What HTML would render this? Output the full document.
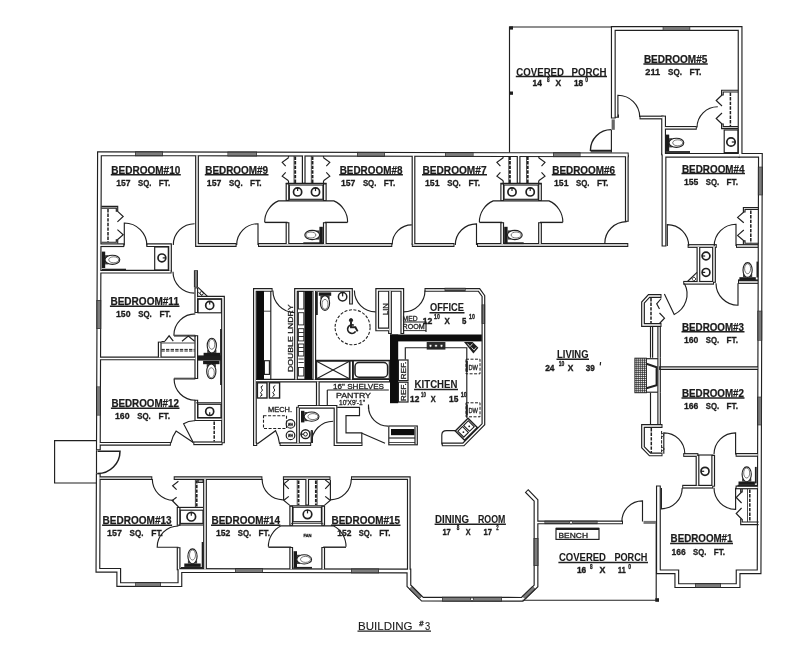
<!DOCTYPE html><html><head><meta charset="utf-8"><title>Building #3 Floor Plan</title>
<style>html,body{margin:0;padding:0;background:#fff}svg{display:block;filter:grayscale(1)}text{font-family:"Liberation Sans",sans-serif;fill:#1c1c1c;stroke:#1c1c1c;stroke-width:.28px}</style></head><body>
<svg width="800" height="670" viewBox="0 0 800 670">
<rect width="800" height="670" fill="#fff"/>
<path d="M98.35,450.20 L99.45,153.70 L509.50,154.60 L628.70,154.86" fill="none" stroke="#202020" stroke-width="4.85" stroke-linejoin="miter" stroke-linecap="butt"/>
<path d="M626.80,154.86 L626.80,221.80" fill="none" stroke="#202020" stroke-width="3.8" stroke-linejoin="miter" stroke-linecap="butt"/>
<path d="M197.00,154.20 L197.00,245.00 L236.60,245.00" fill="none" stroke="#202020" stroke-width="3.8" stroke-linejoin="miter" stroke-linecap="butt"/>
<path d="M258.00,245.00 L392.30,245.00" fill="none" stroke="#202020" stroke-width="3.8" stroke-linejoin="miter" stroke-linecap="butt"/>
<path d="M413.50,154.20 L413.50,245.00" fill="none" stroke="#202020" stroke-width="3.8" stroke-linejoin="miter" stroke-linecap="butt"/>
<path d="M411.80,245.00 L454.50,245.00" fill="none" stroke="#202020" stroke-width="3.8" stroke-linejoin="miter" stroke-linecap="butt"/>
<path d="M477.00,245.00 L628.30,245.00" fill="none" stroke="#202020" stroke-width="3.8" stroke-linejoin="miter" stroke-linecap="butt"/>
<path d="M98.40,245.20 L124.30,245.20" fill="none" stroke="#202020" stroke-width="3.8" stroke-linejoin="miter" stroke-linecap="butt"/>
<path d="M146.30,245.20 L170.00,245.20 L170.00,271.70" fill="none" stroke="#202020" stroke-width="3.8" stroke-linejoin="miter" stroke-linecap="butt"/>
<path d="M98.40,271.70 L171.60,271.70" fill="none" stroke="#202020" stroke-width="3.8" stroke-linejoin="miter" stroke-linecap="butt"/>
<path d="M303.70,154.20 L303.70,183.80" fill="none" stroke="#202020" stroke-width="3.8" stroke-linejoin="miter" stroke-linecap="butt"/>
<path d="M287.50,183.40 L287.50,200.90" fill="none" stroke="#202020" stroke-width="3.8" stroke-linejoin="miter" stroke-linecap="butt"/>
<path d="M324.80,183.40 L324.80,200.90" fill="none" stroke="#202020" stroke-width="3.8" stroke-linejoin="miter" stroke-linecap="butt"/>
<path d="M287.50,222.20 L287.50,245.00" fill="none" stroke="#202020" stroke-width="3.8" stroke-linejoin="miter" stroke-linecap="butt"/>
<path d="M324.80,222.20 L324.80,245.00" fill="none" stroke="#202020" stroke-width="3.8" stroke-linejoin="miter" stroke-linecap="butt"/>
<path d="M518.60,154.20 L518.60,183.80" fill="none" stroke="#202020" stroke-width="3.8" stroke-linejoin="miter" stroke-linecap="butt"/>
<path d="M502.20,183.40 L502.20,200.90" fill="none" stroke="#202020" stroke-width="3.8" stroke-linejoin="miter" stroke-linecap="butt"/>
<path d="M540.00,183.40 L540.00,200.90" fill="none" stroke="#202020" stroke-width="3.8" stroke-linejoin="miter" stroke-linecap="butt"/>
<path d="M502.20,222.20 L502.20,245.00" fill="none" stroke="#202020" stroke-width="3.8" stroke-linejoin="miter" stroke-linecap="butt"/>
<path d="M540.00,222.20 L540.00,245.00" fill="none" stroke="#202020" stroke-width="3.8" stroke-linejoin="miter" stroke-linecap="butt"/>
<path d="M613.30,118.60 L613.30,28.50 L740.10,28.50 L740.10,155.30" fill="none" stroke="#202020" stroke-width="4.85" stroke-linejoin="miter" stroke-linecap="butt"/>
<path d="M639.50,117.50 L663.60,117.50" fill="none" stroke="#202020" stroke-width="3.8" stroke-linejoin="miter" stroke-linecap="butt"/>
<path d="M663.60,115.60 L663.60,155.30" fill="none" stroke="#202020" stroke-width="4.85" stroke-linejoin="miter" stroke-linecap="butt"/>
<path d="M663.50,127.80 L696.80,127.80" fill="none" stroke="#202020" stroke-width="3.8" stroke-linejoin="miter" stroke-linecap="butt"/>
<path d="M664.00,246.50 L664.00,155.30 L740.10,155.30" fill="none" stroke="#202020" stroke-width="4.85" stroke-linejoin="miter" stroke-linecap="butt"/>
<path d="M738.20,155.30 L760.40,155.30 L759.10,571.80 L738.10,571.80 L738.10,585.60 L676.80,585.60 L676.80,571.80 L658.40,571.80 L658.40,485.60" fill="none" stroke="#202020" stroke-width="4.85" stroke-linejoin="miter" stroke-linecap="butt"/>
<path d="M687.60,246.00 L716.80,246.00" fill="none" stroke="#202020" stroke-width="3.8" stroke-linejoin="miter" stroke-linecap="butt"/>
<path d="M736.00,246.00 L758.60,246.00" fill="none" stroke="#202020" stroke-width="3.8" stroke-linejoin="miter" stroke-linecap="butt"/>
<path d="M698.40,246.00 L698.40,282.80" fill="none" stroke="#202020" stroke-width="3.8" stroke-linejoin="miter" stroke-linecap="butt"/>
<path d="M714.00,246.00 L714.00,282.80" fill="none" stroke="#202020" stroke-width="3.8" stroke-linejoin="miter" stroke-linecap="butt"/>
<path d="M683.20,282.80 L714.00,282.80" fill="none" stroke="#202020" stroke-width="3.8" stroke-linejoin="miter" stroke-linecap="butt"/>
<path d="M738.00,282.00 L758.60,282.00" fill="none" stroke="#202020" stroke-width="3.8" stroke-linejoin="miter" stroke-linecap="butt"/>
<path d="M661.50,296.00 L649.00,296.00 L643.00,302.50 L643.00,325.00 L661.50,325.00" fill="none" stroke="#202020" stroke-width="3.8" stroke-linejoin="miter" stroke-linecap="butt"/>
<path d="M659.10,368.10 L758.60,368.10" fill="none" stroke="#202020" stroke-width="3.8" stroke-linejoin="miter" stroke-linecap="butt"/>
<path d="M662.50,426.00 L643.00,426.00 L643.00,447.20 L650.00,454.40 L662.50,454.40" fill="none" stroke="#202020" stroke-width="3.8" stroke-linejoin="miter" stroke-linecap="butt"/>
<path d="M683.20,455.00 L698.40,455.00" fill="none" stroke="#202020" stroke-width="3.8" stroke-linejoin="miter" stroke-linecap="butt"/>
<path d="M697.50,455.00 L697.50,486.70" fill="none" stroke="#202020" stroke-width="3.8" stroke-linejoin="miter" stroke-linecap="butt"/>
<path d="M713.20,455.00 L713.20,486.70" fill="none" stroke="#202020" stroke-width="3.8" stroke-linejoin="miter" stroke-linecap="butt"/>
<path d="M682.20,486.70 L713.20,486.70" fill="none" stroke="#202020" stroke-width="3.8" stroke-linejoin="miter" stroke-linecap="butt"/>
<path d="M735.60,454.90 L758.60,454.90" fill="none" stroke="#202020" stroke-width="3.8" stroke-linejoin="miter" stroke-linecap="butt"/>
<path d="M735.60,487.40 L758.60,487.40" fill="none" stroke="#202020" stroke-width="3.8" stroke-linejoin="miter" stroke-linecap="butt"/>
<path d="M535.80,522.40 L623.00,522.40" fill="none" stroke="#202020" stroke-width="3.8" stroke-linejoin="miter" stroke-linecap="butt"/>
<path d="M98.40,478.10 L152.30,478.10" fill="none" stroke="#202020" stroke-width="3.8" stroke-linejoin="miter" stroke-linecap="butt"/>
<path d="M173.70,478.10 L262.40,478.10" fill="none" stroke="#202020" stroke-width="3.8" stroke-linejoin="miter" stroke-linecap="butt"/>
<path d="M282.90,478.10 L330.50,478.10" fill="none" stroke="#202020" stroke-width="3.8" stroke-linejoin="miter" stroke-linecap="butt"/>
<path d="M351.00,478.10 L408.80,478.10 L408.80,571.00" fill="none" stroke="#202020" stroke-width="3.8" stroke-linejoin="miter" stroke-linecap="butt"/>
<path d="M98.26,473.20 L97.90,570.30 L118.75,570.30 L118.75,584.50 L179.90,584.60 L179.90,570.50 L408.90,571.00 L408.90,585.80 L422.40,599.20 L522.20,599.30 L536.00,585.90 L536.00,500.40 L526.50,490.70" fill="none" stroke="#202020" stroke-width="4.85" stroke-linejoin="miter" stroke-linecap="butt"/>
<path d="M205.00,478.10 L205.00,570.30" fill="none" stroke="#202020" stroke-width="3.8" stroke-linejoin="miter" stroke-linecap="butt"/>
<path d="M178.60,507.00 L178.60,525.80" fill="none" stroke="#202020" stroke-width="3.8" stroke-linejoin="miter" stroke-linecap="butt"/>
<path d="M178.60,547.20 L178.60,570.30" fill="none" stroke="#202020" stroke-width="3.8" stroke-linejoin="miter" stroke-linecap="butt"/>
<path d="M307.20,478.10 L307.20,505.50" fill="none" stroke="#202020" stroke-width="3.8" stroke-linejoin="miter" stroke-linecap="butt"/>
<path d="M291.20,505.70 L291.20,525.80" fill="none" stroke="#202020" stroke-width="3.8" stroke-linejoin="miter" stroke-linecap="butt"/>
<path d="M323.20,505.70 L323.20,525.80" fill="none" stroke="#202020" stroke-width="3.8" stroke-linejoin="miter" stroke-linecap="butt"/>
<path d="M291.20,547.00 L291.20,570.30" fill="none" stroke="#202020" stroke-width="3.8" stroke-linejoin="miter" stroke-linecap="butt"/>
<path d="M323.20,547.00 L323.20,570.30" fill="none" stroke="#202020" stroke-width="3.8" stroke-linejoin="miter" stroke-linecap="butt"/>
<path d="M98.40,443.80 L170.90,443.80" fill="none" stroke="#202020" stroke-width="3.8" stroke-linejoin="miter" stroke-linecap="butt"/>
<path d="M193.30,443.30 L222.60,443.30" fill="none" stroke="#202020" stroke-width="3.8" stroke-linejoin="miter" stroke-linecap="butt"/>
<path d="M196.30,297.60 L223.00,297.60 L223.00,443.30" fill="none" stroke="#202020" stroke-width="3.8" stroke-linejoin="miter" stroke-linecap="butt"/>
<path d="M196.30,399.80 L196.30,419.20 L222.60,419.20" fill="none" stroke="#202020" stroke-width="3.8" stroke-linejoin="miter" stroke-linecap="butt"/>
<path d="M196.30,287.40 L196.30,313.00" fill="none" stroke="#202020" stroke-width="3.8" stroke-linejoin="miter" stroke-linecap="butt"/>
<path d="M196.30,335.20 L196.30,379.00" fill="none" stroke="#202020" stroke-width="3.8" stroke-linejoin="miter" stroke-linecap="butt"/>
<path d="M159.70,358.40 L159.70,341.60" fill="none" stroke="#202020" stroke-width="3.8" stroke-linejoin="miter" stroke-linecap="butt"/>
<path d="M98.40,358.40 L196.30,358.40" fill="none" stroke="#202020" stroke-width="3.8" stroke-linejoin="miter" stroke-linecap="butt"/>
<path d="M257.20,444.20 L254.90,444.20 L254.90,289.90 L272.60,289.90" fill="none" stroke="#202020" stroke-width="3.8" stroke-linejoin="miter" stroke-linecap="butt"/>
<path d="M296.00,380.60 L296.00,289.90 L351.00,289.90 L351.00,304.50" fill="none" stroke="#202020" stroke-width="3.8" stroke-linejoin="miter" stroke-linecap="butt"/>
<path d="M402.30,334.00 L402.30,289.90 L377.20,289.90 L377.20,329.40 L390.00,329.40" fill="none" stroke="#202020" stroke-width="3.8" stroke-linejoin="miter" stroke-linecap="butt"/>
<path d="M390.00,289.90 L390.00,334.00" fill="none" stroke="#202020" stroke-width="3.8" stroke-linejoin="miter" stroke-linecap="butt"/>
<path d="M424.50,289.90 L479.00,289.90 L483.40,296.00 L483.40,424.30 L463.40,444.40 L441.80,444.40" fill="none" stroke="#202020" stroke-width="3.8" stroke-linejoin="miter" stroke-linecap="butt"/>
<path d="M314.30,289.90 L314.30,380.60" fill="none" stroke="#202020" stroke-width="3.8" stroke-linejoin="miter" stroke-linecap="butt"/>
<path d="M254.90,380.60 L390.00,380.60" fill="none" stroke="#202020" stroke-width="3.8" stroke-linejoin="miter" stroke-linecap="butt"/>
<path d="M351.30,360.60 L351.30,380.60" fill="none" stroke="#202020" stroke-width="3.8" stroke-linejoin="miter" stroke-linecap="butt"/>
<path d="M317.80,380.60 L317.80,406.20" fill="none" stroke="#202020" stroke-width="3.8" stroke-linejoin="miter" stroke-linecap="butt"/>
<path d="M297.80,406.80 L335.50,406.80 L335.50,444.20 L362.50,444.20" fill="none" stroke="#202020" stroke-width="3.8" stroke-linejoin="miter" stroke-linecap="butt"/>
<path d="M279.60,444.20 L311.20,444.20" fill="none" stroke="#202020" stroke-width="3.8" stroke-linejoin="miter" stroke-linecap="butt"/>
<path d="M298.00,406.80 L298.00,444.20" fill="none" stroke="#202020" stroke-width="3.8" stroke-linejoin="miter" stroke-linecap="butt"/>
<path d="M98.35,449.20 L99.45,153.70 L509.50,154.60 L627.70,154.86" fill="none" stroke="#fff" stroke-width="2.55" stroke-linejoin="miter" stroke-linecap="butt"/>
<path d="M626.80,155.86 L626.80,220.80" fill="none" stroke="#fff" stroke-width="1.45" stroke-linejoin="miter" stroke-linecap="butt"/>
<path d="M197.00,155.20 L197.00,245.00 L235.60,245.00" fill="none" stroke="#fff" stroke-width="1.45" stroke-linejoin="miter" stroke-linecap="butt"/>
<path d="M259.00,245.00 L391.30,245.00" fill="none" stroke="#fff" stroke-width="1.45" stroke-linejoin="miter" stroke-linecap="butt"/>
<path d="M413.50,155.20 L413.50,244.00" fill="none" stroke="#fff" stroke-width="1.45" stroke-linejoin="miter" stroke-linecap="butt"/>
<path d="M412.80,245.00 L453.50,245.00" fill="none" stroke="#fff" stroke-width="1.45" stroke-linejoin="miter" stroke-linecap="butt"/>
<path d="M478.00,245.00 L627.30,245.00" fill="none" stroke="#fff" stroke-width="1.45" stroke-linejoin="miter" stroke-linecap="butt"/>
<path d="M99.40,245.20 L123.30,245.20" fill="none" stroke="#fff" stroke-width="1.45" stroke-linejoin="miter" stroke-linecap="butt"/>
<path d="M147.30,245.20 L170.00,245.20 L170.00,270.70" fill="none" stroke="#fff" stroke-width="1.45" stroke-linejoin="miter" stroke-linecap="butt"/>
<path d="M99.40,271.70 L170.60,271.70" fill="none" stroke="#fff" stroke-width="1.45" stroke-linejoin="miter" stroke-linecap="butt"/>
<path d="M303.70,155.20 L303.70,182.80" fill="none" stroke="#fff" stroke-width="1.45" stroke-linejoin="miter" stroke-linecap="butt"/>
<path d="M287.50,184.40 L287.50,199.90" fill="none" stroke="#fff" stroke-width="1.45" stroke-linejoin="miter" stroke-linecap="butt"/>
<path d="M324.80,184.40 L324.80,199.90" fill="none" stroke="#fff" stroke-width="1.45" stroke-linejoin="miter" stroke-linecap="butt"/>
<path d="M287.50,223.20 L287.50,244.00" fill="none" stroke="#fff" stroke-width="1.45" stroke-linejoin="miter" stroke-linecap="butt"/>
<path d="M324.80,223.20 L324.80,244.00" fill="none" stroke="#fff" stroke-width="1.45" stroke-linejoin="miter" stroke-linecap="butt"/>
<path d="M518.60,155.20 L518.60,182.80" fill="none" stroke="#fff" stroke-width="1.45" stroke-linejoin="miter" stroke-linecap="butt"/>
<path d="M502.20,184.40 L502.20,199.90" fill="none" stroke="#fff" stroke-width="1.45" stroke-linejoin="miter" stroke-linecap="butt"/>
<path d="M540.00,184.40 L540.00,199.90" fill="none" stroke="#fff" stroke-width="1.45" stroke-linejoin="miter" stroke-linecap="butt"/>
<path d="M502.20,223.20 L502.20,244.00" fill="none" stroke="#fff" stroke-width="1.45" stroke-linejoin="miter" stroke-linecap="butt"/>
<path d="M540.00,223.20 L540.00,244.00" fill="none" stroke="#fff" stroke-width="1.45" stroke-linejoin="miter" stroke-linecap="butt"/>
<path d="M613.30,117.60 L613.30,28.50 L740.10,28.50 L740.10,154.30" fill="none" stroke="#fff" stroke-width="2.55" stroke-linejoin="miter" stroke-linecap="butt"/>
<path d="M640.50,117.50 L662.60,117.50" fill="none" stroke="#fff" stroke-width="1.45" stroke-linejoin="miter" stroke-linecap="butt"/>
<path d="M663.60,116.60 L663.60,154.30" fill="none" stroke="#fff" stroke-width="2.55" stroke-linejoin="miter" stroke-linecap="butt"/>
<path d="M664.50,127.80 L695.80,127.80" fill="none" stroke="#fff" stroke-width="1.45" stroke-linejoin="miter" stroke-linecap="butt"/>
<path d="M664.00,245.50 L664.00,155.30 L739.10,155.30" fill="none" stroke="#fff" stroke-width="2.55" stroke-linejoin="miter" stroke-linecap="butt"/>
<path d="M739.20,155.30 L760.40,155.30 L759.10,571.80 L738.10,571.80 L738.10,585.60 L676.80,585.60 L676.80,571.80 L658.40,571.80 L658.40,486.60" fill="none" stroke="#fff" stroke-width="2.55" stroke-linejoin="miter" stroke-linecap="butt"/>
<path d="M688.60,246.00 L715.80,246.00" fill="none" stroke="#fff" stroke-width="1.45" stroke-linejoin="miter" stroke-linecap="butt"/>
<path d="M737.00,246.00 L757.60,246.00" fill="none" stroke="#fff" stroke-width="1.45" stroke-linejoin="miter" stroke-linecap="butt"/>
<path d="M698.40,247.00 L698.40,281.80" fill="none" stroke="#fff" stroke-width="1.45" stroke-linejoin="miter" stroke-linecap="butt"/>
<path d="M714.00,247.00 L714.00,281.80" fill="none" stroke="#fff" stroke-width="1.45" stroke-linejoin="miter" stroke-linecap="butt"/>
<path d="M684.20,282.80 L713.00,282.80" fill="none" stroke="#fff" stroke-width="1.45" stroke-linejoin="miter" stroke-linecap="butt"/>
<path d="M739.00,282.00 L757.60,282.00" fill="none" stroke="#fff" stroke-width="1.45" stroke-linejoin="miter" stroke-linecap="butt"/>
<path d="M660.50,296.00 L649.00,296.00 L643.00,302.50 L643.00,325.00 L660.50,325.00" fill="none" stroke="#fff" stroke-width="1.45" stroke-linejoin="miter" stroke-linecap="butt"/>
<path d="M660.10,368.10 L757.60,368.10" fill="none" stroke="#fff" stroke-width="1.45" stroke-linejoin="miter" stroke-linecap="butt"/>
<path d="M661.50,426.00 L643.00,426.00 L643.00,447.20 L650.00,454.40 L661.50,454.40" fill="none" stroke="#fff" stroke-width="1.45" stroke-linejoin="miter" stroke-linecap="butt"/>
<path d="M684.20,455.00 L697.40,455.00" fill="none" stroke="#fff" stroke-width="1.45" stroke-linejoin="miter" stroke-linecap="butt"/>
<path d="M697.50,456.00 L697.50,485.70" fill="none" stroke="#fff" stroke-width="1.45" stroke-linejoin="miter" stroke-linecap="butt"/>
<path d="M713.20,456.00 L713.20,485.70" fill="none" stroke="#fff" stroke-width="1.45" stroke-linejoin="miter" stroke-linecap="butt"/>
<path d="M683.20,486.70 L712.20,486.70" fill="none" stroke="#fff" stroke-width="1.45" stroke-linejoin="miter" stroke-linecap="butt"/>
<path d="M736.60,454.90 L757.60,454.90" fill="none" stroke="#fff" stroke-width="1.45" stroke-linejoin="miter" stroke-linecap="butt"/>
<path d="M736.60,487.40 L757.60,487.40" fill="none" stroke="#fff" stroke-width="1.45" stroke-linejoin="miter" stroke-linecap="butt"/>
<path d="M536.80,522.40 L622.00,522.40" fill="none" stroke="#fff" stroke-width="1.45" stroke-linejoin="miter" stroke-linecap="butt"/>
<path d="M99.40,478.10 L151.30,478.10" fill="none" stroke="#fff" stroke-width="1.45" stroke-linejoin="miter" stroke-linecap="butt"/>
<path d="M174.70,478.10 L261.40,478.10" fill="none" stroke="#fff" stroke-width="1.45" stroke-linejoin="miter" stroke-linecap="butt"/>
<path d="M283.90,478.10 L329.50,478.10" fill="none" stroke="#fff" stroke-width="1.45" stroke-linejoin="miter" stroke-linecap="butt"/>
<path d="M352.00,478.10 L408.80,478.10 L408.80,570.00" fill="none" stroke="#fff" stroke-width="1.45" stroke-linejoin="miter" stroke-linecap="butt"/>
<path d="M98.26,474.20 L97.90,570.30 L118.75,570.30 L118.75,584.50 L179.90,584.60 L179.90,570.50 L408.90,571.00 L408.90,585.80 L422.40,599.20 L522.20,599.30 L536.00,585.90 L536.00,500.40 L527.20,491.41" fill="none" stroke="#fff" stroke-width="2.55" stroke-linejoin="miter" stroke-linecap="butt"/>
<path d="M205.00,479.10 L205.00,569.30" fill="none" stroke="#fff" stroke-width="1.45" stroke-linejoin="miter" stroke-linecap="butt"/>
<path d="M178.60,508.00 L178.60,524.80" fill="none" stroke="#fff" stroke-width="1.45" stroke-linejoin="miter" stroke-linecap="butt"/>
<path d="M178.60,548.20 L178.60,569.30" fill="none" stroke="#fff" stroke-width="1.45" stroke-linejoin="miter" stroke-linecap="butt"/>
<path d="M307.20,479.10 L307.20,504.50" fill="none" stroke="#fff" stroke-width="1.45" stroke-linejoin="miter" stroke-linecap="butt"/>
<path d="M291.20,506.70 L291.20,524.80" fill="none" stroke="#fff" stroke-width="1.45" stroke-linejoin="miter" stroke-linecap="butt"/>
<path d="M323.20,506.70 L323.20,524.80" fill="none" stroke="#fff" stroke-width="1.45" stroke-linejoin="miter" stroke-linecap="butt"/>
<path d="M291.20,548.00 L291.20,569.30" fill="none" stroke="#fff" stroke-width="1.45" stroke-linejoin="miter" stroke-linecap="butt"/>
<path d="M323.20,548.00 L323.20,569.30" fill="none" stroke="#fff" stroke-width="1.45" stroke-linejoin="miter" stroke-linecap="butt"/>
<path d="M99.40,443.80 L169.90,443.80" fill="none" stroke="#fff" stroke-width="1.45" stroke-linejoin="miter" stroke-linecap="butt"/>
<path d="M194.30,443.30 L221.60,443.30" fill="none" stroke="#fff" stroke-width="1.45" stroke-linejoin="miter" stroke-linecap="butt"/>
<path d="M197.30,297.60 L223.00,297.60 L223.00,442.30" fill="none" stroke="#fff" stroke-width="1.45" stroke-linejoin="miter" stroke-linecap="butt"/>
<path d="M196.30,400.80 L196.30,419.20 L221.60,419.20" fill="none" stroke="#fff" stroke-width="1.45" stroke-linejoin="miter" stroke-linecap="butt"/>
<path d="M196.30,288.40 L196.30,312.00" fill="none" stroke="#fff" stroke-width="1.45" stroke-linejoin="miter" stroke-linecap="butt"/>
<path d="M196.30,336.20 L196.30,378.00" fill="none" stroke="#fff" stroke-width="1.45" stroke-linejoin="miter" stroke-linecap="butt"/>
<path d="M159.70,357.40 L159.70,342.60" fill="none" stroke="#fff" stroke-width="1.45" stroke-linejoin="miter" stroke-linecap="butt"/>
<path d="M99.40,358.40 L195.30,358.40" fill="none" stroke="#fff" stroke-width="1.45" stroke-linejoin="miter" stroke-linecap="butt"/>
<path d="M256.20,444.20 L254.90,444.20 L254.90,289.90 L271.60,289.90" fill="none" stroke="#fff" stroke-width="1.45" stroke-linejoin="miter" stroke-linecap="butt"/>
<path d="M296.00,379.60 L296.00,289.90 L351.00,289.90 L351.00,303.50" fill="none" stroke="#fff" stroke-width="1.45" stroke-linejoin="miter" stroke-linecap="butt"/>
<path d="M402.30,333.00 L402.30,289.90 L377.20,289.90 L377.20,329.40 L389.00,329.40" fill="none" stroke="#fff" stroke-width="1.45" stroke-linejoin="miter" stroke-linecap="butt"/>
<path d="M390.00,290.90 L390.00,333.00" fill="none" stroke="#fff" stroke-width="1.45" stroke-linejoin="miter" stroke-linecap="butt"/>
<path d="M425.50,289.90 L479.00,289.90 L483.40,296.00 L483.40,424.30 L463.40,444.40 L442.80,444.40" fill="none" stroke="#fff" stroke-width="1.45" stroke-linejoin="miter" stroke-linecap="butt"/>
<path d="M314.30,290.90 L314.30,379.60" fill="none" stroke="#fff" stroke-width="1.45" stroke-linejoin="miter" stroke-linecap="butt"/>
<path d="M255.90,380.60 L389.00,380.60" fill="none" stroke="#fff" stroke-width="1.45" stroke-linejoin="miter" stroke-linecap="butt"/>
<path d="M351.30,361.60 L351.30,379.60" fill="none" stroke="#fff" stroke-width="1.45" stroke-linejoin="miter" stroke-linecap="butt"/>
<path d="M317.80,381.60 L317.80,405.20" fill="none" stroke="#fff" stroke-width="1.45" stroke-linejoin="miter" stroke-linecap="butt"/>
<path d="M298.80,406.80 L335.50,406.80 L335.50,444.20 L361.50,444.20" fill="none" stroke="#fff" stroke-width="1.45" stroke-linejoin="miter" stroke-linecap="butt"/>
<path d="M280.60,444.20 L310.20,444.20" fill="none" stroke="#fff" stroke-width="1.45" stroke-linejoin="miter" stroke-linecap="butt"/>
<path d="M298.00,407.80 L298.00,443.20" fill="none" stroke="#fff" stroke-width="1.45" stroke-linejoin="miter" stroke-linecap="butt"/>
<g><rect x="101.8" y="251.6" width="3.4" height="16.4" fill="#1a1a1a"/>
<rect x="105.0" y="255.2" width="3.4" height="9.2" fill="#444"/>
<rect x="319.4" y="226.8" width="3.4" height="16.4" fill="#1a1a1a"/>
<rect x="316.2" y="230.4" width="3.4" height="9.2" fill="#444"/>
<rect x="504.2" y="226.8" width="3.4" height="16.4" fill="#1a1a1a"/>
<rect x="507.4" y="230.4" width="3.4" height="9.2" fill="#444"/>
<rect x="509.3" y="26.3" width="3.7" height="3.3" fill="#1e1e1e"/>
<rect x="509.3" y="91.5" width="3.7" height="3.3" fill="#1e1e1e"/>
<rect x="611.6" y="119.4" width="3.2" height="10.4" fill="#666"/>
<rect x="665.8" y="134.6" width="3.4" height="16.4" fill="#1a1a1a"/>
<rect x="669.0" y="138.2" width="3.4" height="9.2" fill="#444"/>
<rect x="739.4" y="277.2" width="16.4" height="3.4" fill="#1a1a1a"/>
<rect x="743.0" y="274.0" width="9.2" height="3.4" fill="#444"/>
<rect x="738.5" y="481.5" width="16.4" height="3.4" fill="#1a1a1a"/>
<rect x="742.1" y="478.3" width="9.2" height="3.4" fill="#444"/>
<rect x="643.5" y="520.9" width="12.5" height="3.0" fill="#777"/>
<rect x="655.3" y="598.2" width="3.7" height="3.6" fill="#1e1e1e"/>
<rect x="184.3" y="563.5" width="16.4" height="3.4" fill="#1a1a1a"/>
<rect x="187.9" y="560.3" width="9.2" height="3.4" fill="#444"/>
<rect x="293.6" y="551.2" width="3.4" height="16.4" fill="#1a1a1a"/>
<rect x="296.8" y="554.8" width="3.4" height="9.2" fill="#444"/>
<rect x="198.0" y="355.4" width="23.6" height="5.2" fill="#1e1e1e"/>
<rect x="203.6" y="352.8" width="16.4" height="3.4" fill="#1a1a1a"/>
<rect x="207.2" y="349.6" width="9.2" height="3.4" fill="#444"/>
<rect x="203.1" y="360.8" width="16.4" height="3.4" fill="#1a1a1a"/>
<rect x="206.7" y="364.0" width="9.2" height="3.4" fill="#444"/>
<rect x="256.6" y="291.0" width="7.4" height="88.5" fill="#0d0d0d"/>
<rect x="304.4" y="291.0" width="7.6" height="88.5" fill="#0d0d0d"/>
<rect x="318.8" y="292.4" width="12.4" height="3.4" fill="#1a1a1a"/>
<rect x="320.4" y="295.6" width="9.2" height="3.4" fill="#444"/>
<rect x="390.0" y="334.5" width="91.8" height="6.9" fill="#0d0d0d"/>
<rect x="390.0" y="334.5" width="8.2" height="68.7" fill="#0d0d0d"/>
<rect x="426.7" y="342.0" width="18.7" height="7.6" fill="#2a2a2a"/>
<rect x="391.0" y="429.0" width="23.4" height="6.2" fill="#0d0d0d"/>
<rect x="301.0" y="410.8" width="3.4" height="11.6" fill="#1a1a1a"/>
<rect x="304.2" y="412.0" width="3.4" height="9.2" fill="#444"/></g>
<g><path d="M96.5,450.2 L96.5,473.2" fill="none" stroke="#202020" stroke-width="1.15" />
<path d="M124.3,245.6 L124.3,223.0 A22.6,22.6 0 0 1 146.9,245.6" fill="none" stroke="#202020" stroke-width="1.15" />
<path d="M194.6,223.7 A21.3,21.3 0 0 0 173.3,245.0" fill="none" stroke="#202020" stroke-width="1.15" />
<path d="M173.0,271.8 A21.3,21.3 0 0 0 194.3,293.1" fill="none" stroke="#202020" stroke-width="1.15" />
<path d="M101.4,206.3 L117.7,206.3 L117.7,211.1" fill="none" stroke="#202020" stroke-width="1.15" />
<path d="M101.4,208.1 L116.3,208.1 L116.3,211.1 L117.7,211.1" fill="none" stroke="#202020" stroke-width="1.15" />
<path d="M117.7,239.8 L117.7,243.4" fill="none" stroke="#202020" stroke-width="1.15" />
<path d="M101.4,242.2 L116.3,242.2 L116.3,239.8 L117.7,239.8" fill="none" stroke="#202020" stroke-width="1.15" />
<path d="M117.4,211.1 L123.2,216.5 L117.4,221.9" fill="none" stroke="#202020" stroke-width="1.15" />
<path d="M117.4,229.6 L123.2,234.7 L117.4,239.8" fill="none" stroke="#202020" stroke-width="1.15" />
<path d="M108.0,209.0 L108.0,242.0" fill="none" stroke="#202020" stroke-width="1.5" stroke-dasharray="3.4 1.2"/>
<ellipse cx="112.4" cy="259.8" rx="7.4" ry="4.6" fill="#fff" stroke="#202020" stroke-width="1.1"/>
<ellipse cx="113.7" cy="259.8" rx="5.0" ry="3.0" fill="#fff" stroke="#202020" stroke-width="0.6"/>
<path d="M102.0,269.6 L126.0,269.6" fill="none" stroke="#202020" stroke-width="1.8" />
<rect x="154.7" y="247.0" width="13.6" height="23.0" fill="none" stroke="#202020" stroke-width="1.15" />
<circle cx="161.9" cy="257.9" r="3.9" fill="none" stroke="#202020" stroke-width="1.7" />
<path d="M162.7,257.9 L165.8,257.9" fill="none" stroke="#202020" stroke-width="1.2" />
<path d="M285.7,183.4 L326.6,183.4" fill="none" stroke="#202020" stroke-width="1.15" />
<rect x="289.3" y="185.0" width="33.7" height="14.3" fill="none" stroke="#202020" stroke-width="1.15" />
<circle cx="297.6" cy="191.9" r="4.1" fill="none" stroke="#202020" stroke-width="1.7" />
<path d="M297.6,191.1 L297.6,187.8" fill="none" stroke="#202020" stroke-width="1.2" />
<circle cx="315.5" cy="191.9" r="4.1" fill="none" stroke="#202020" stroke-width="1.7" />
<path d="M315.5,191.1 L315.5,187.8" fill="none" stroke="#202020" stroke-width="1.2" />
<path d="M288.5,157.7 L282.2,162.4 L285.7,166.1" fill="none" stroke="#202020" stroke-width="1.15" />
<path d="M285.7,172.4 L282.2,176.2 L288.5,180.8" fill="none" stroke="#202020" stroke-width="1.15" />
<path d="M323.5,157.7 L329.8,162.4 L326.3,166.1" fill="none" stroke="#202020" stroke-width="1.15" />
<path d="M326.3,172.4 L329.8,176.2 L323.5,180.8" fill="none" stroke="#202020" stroke-width="1.15" />
<path d="M288.5,156.0 L288.5,157.7" fill="none" stroke="#202020" stroke-width="1.15" />
<path d="M288.5,180.8 L288.5,183.4" fill="none" stroke="#202020" stroke-width="1.15" />
<path d="M323.5,156.0 L323.5,157.7" fill="none" stroke="#202020" stroke-width="1.15" />
<path d="M323.5,180.8 L323.5,183.4" fill="none" stroke="#202020" stroke-width="1.15" />
<path d="M295.2,156.5 L295.2,183.0" fill="none" stroke="#202020" stroke-width="1.9" stroke-dasharray="3.4 1.2"/>
<path d="M294.0,156.0 L294.0,183.4" fill="none" stroke="#202020" stroke-width="0.7" />
<path d="M312.5,156.5 L312.5,183.0" fill="none" stroke="#202020" stroke-width="1.9" stroke-dasharray="3.4 1.2"/>
<path d="M311.3,156.0 L311.3,183.4" fill="none" stroke="#202020" stroke-width="0.7" />
<path d="M264.7,222.2 A22.8,22.8 0 0 1 278.5,200.9 L333.8,200.9 A22.8,22.8 0 0 1 347.6,222.2" fill="none" stroke="#202020" stroke-width="1.15" />
<path d="M264.7,222.4 L287.5,222.4" fill="none" stroke="#202020" stroke-width="1.4" />
<path d="M324.8,222.4 L347.6,222.4" fill="none" stroke="#202020" stroke-width="1.4" />
<ellipse cx="312.2" cy="235.0" rx="7.4" ry="4.6" fill="#fff" stroke="#202020" stroke-width="1.1"/>
<ellipse cx="310.9" cy="235.0" rx="5.0" ry="3.0" fill="#fff" stroke="#202020" stroke-width="0.6"/>
<path d="M303.3,243.2 L322.8,243.2" fill="none" stroke="#202020" stroke-width="1.8" />
<path d="M500.4,183.4 L541.8,183.4" fill="none" stroke="#202020" stroke-width="1.15" />
<rect x="504.0" y="185.0" width="34.2" height="14.3" fill="none" stroke="#202020" stroke-width="1.15" />
<circle cx="512.0" cy="191.9" r="4.1" fill="none" stroke="#202020" stroke-width="1.7" />
<path d="M512.0,191.1 L512.0,187.8" fill="none" stroke="#202020" stroke-width="1.2" />
<circle cx="530.2" cy="191.9" r="4.1" fill="none" stroke="#202020" stroke-width="1.7" />
<path d="M530.2,191.1 L530.2,187.8" fill="none" stroke="#202020" stroke-width="1.2" />
<path d="M503.2,157.7 L496.9,162.4 L500.4,166.1" fill="none" stroke="#202020" stroke-width="1.15" />
<path d="M500.4,172.4 L496.9,176.2 L503.2,180.8" fill="none" stroke="#202020" stroke-width="1.15" />
<path d="M538.7,157.7 L545.0,162.4 L541.5,166.1" fill="none" stroke="#202020" stroke-width="1.15" />
<path d="M541.5,172.4 L545.0,176.2 L538.7,180.8" fill="none" stroke="#202020" stroke-width="1.15" />
<path d="M503.2,156.0 L503.2,157.7" fill="none" stroke="#202020" stroke-width="1.15" />
<path d="M503.2,180.8 L503.2,183.4" fill="none" stroke="#202020" stroke-width="1.15" />
<path d="M538.7,156.0 L538.7,157.7" fill="none" stroke="#202020" stroke-width="1.15" />
<path d="M538.7,180.8 L538.7,183.4" fill="none" stroke="#202020" stroke-width="1.15" />
<path d="M509.9,156.5 L509.9,183.0" fill="none" stroke="#202020" stroke-width="1.9" stroke-dasharray="3.4 1.2"/>
<path d="M508.7,156.0 L508.7,183.4" fill="none" stroke="#202020" stroke-width="0.7" />
<path d="M527.7,156.5 L527.7,183.0" fill="none" stroke="#202020" stroke-width="1.9" stroke-dasharray="3.4 1.2"/>
<path d="M526.5,156.0 L526.5,183.4" fill="none" stroke="#202020" stroke-width="0.7" />
<path d="M479.4,222.2 A22.8,22.8 0 0 1 493.2,200.9 L549.0,200.9 A22.8,22.8 0 0 1 562.8,222.2" fill="none" stroke="#202020" stroke-width="1.15" />
<path d="M479.4,222.4 L502.2,222.4" fill="none" stroke="#202020" stroke-width="1.4" />
<path d="M540.0,222.4 L562.8,222.4" fill="none" stroke="#202020" stroke-width="1.4" />
<ellipse cx="514.8" cy="235.0" rx="7.4" ry="4.6" fill="#fff" stroke="#202020" stroke-width="1.1"/>
<ellipse cx="516.1" cy="235.0" rx="5.0" ry="3.0" fill="#fff" stroke="#202020" stroke-width="0.6"/>
<path d="M504.2,243.2 L523.7,243.2" fill="none" stroke="#202020" stroke-width="1.8" />
<path d="M258.0,245.0 L258.0,223.7 A21.3,21.3 0 0 0 236.7,245.0" fill="none" stroke="#202020" stroke-width="1.15" />
<path d="M411.8,224.9 A19.6,19.6 0 0 0 392.2,244.5" fill="none" stroke="#202020" stroke-width="1.15" />
<path d="M476.5,245.0 L476.5,223.8 A21.2,21.2 0 0 0 455.3,245.0" fill="none" stroke="#202020" stroke-width="1.15" />
<path d="M626.6,221.6 A21.8,21.8 0 0 0 604.8,243.4" fill="none" stroke="#202020" stroke-width="1.15" />
<path d="M509.5,152.5 L509.5,27.0 L611.5,27.0" fill="none" stroke="#202020" stroke-width="1.15" />
<path d="M611.4,129.8 L611.4,152.6" fill="none" stroke="#202020" stroke-width="1.15" />
<path d="M611.2,150.4 L590.4,150.4 A20.8,20.8 0 0 1 611.2,129.6" fill="none" stroke="#202020" stroke-width="1.4" />
<path d="M590.6,151.8 L611.0,151.8" fill="none" stroke="#202020" stroke-width="1.15" />
<path d="M617.9,117.0 L617.9,95.2 A21.8,21.8 0 0 1 639.7,117.0" fill="none" stroke="#202020" stroke-width="1.15" />
<path d="M615.0,117.2 L618.4,117.2 L618.4,114.5" fill="none" stroke="#202020" stroke-width="1.15" />
<path d="M717.8,106.7 A20.8,20.8 0 0 0 697.0,127.5" fill="none" stroke="#202020" stroke-width="1.15" />
<path d="M738.0,90.2 L721.6,90.2 L721.6,95.0" fill="none" stroke="#202020" stroke-width="1.15" />
<path d="M738.0,92.0 L723.2,92.0 L723.2,95.0 L721.6,95.0" fill="none" stroke="#202020" stroke-width="1.15" />
<path d="M721.6,124.0 L721.6,128.6 L738.0,128.6" fill="none" stroke="#202020" stroke-width="1.15" />
<path d="M738.0,126.6 L723.2,126.6 L723.2,124.0 L721.6,124.0" fill="none" stroke="#202020" stroke-width="1.15" />
<path d="M722.0,95.0 L716.2,100.5 L722.0,106.0" fill="none" stroke="#202020" stroke-width="1.15" />
<path d="M722.0,113.0 L716.2,118.5 L722.0,124.0" fill="none" stroke="#202020" stroke-width="1.15" />
<path d="M730.4,92.5 L730.4,126.5" fill="none" stroke="#202020" stroke-width="1.5" stroke-dasharray="3.4 1.2"/>
<rect x="724.2" y="130.0" width="13.8" height="22.6" fill="none" stroke="#202020" stroke-width="1.15" />
<circle cx="731.0" cy="142.0" r="4.2" fill="none" stroke="#202020" stroke-width="1.7" />
<path d="M731.8,142.0 L735.2,142.0" fill="none" stroke="#202020" stroke-width="1.2" />
<ellipse cx="676.4" cy="142.8" rx="7.4" ry="4.6" fill="#fff" stroke="#202020" stroke-width="1.1"/>
<ellipse cx="677.7" cy="142.8" rx="5.0" ry="3.0" fill="#fff" stroke="#202020" stroke-width="0.6"/>
<path d="M666.0,152.0 L690.0,152.0" fill="none" stroke="#202020" stroke-width="1.8" />
<path d="M667.3,246.0 L667.3,224.6 A21.4,21.4 0 0 1 688.7,246.0" fill="none" stroke="#202020" stroke-width="1.15" />
<path d="M736.0,246.0 L736.0,224.2 A21.8,21.8 0 0 0 714.2,246.0" fill="none" stroke="#202020" stroke-width="1.15" />
<path d="M758.6,207.5 L743.4,207.5 L743.4,212.0" fill="none" stroke="#202020" stroke-width="1.15" />
<path d="M758.6,209.3 L745.0,209.3 L745.0,212.0 L743.4,212.0" fill="none" stroke="#202020" stroke-width="1.15" />
<path d="M743.4,240.8 L743.4,244.4" fill="none" stroke="#202020" stroke-width="1.15" />
<path d="M758.6,243.2 L745.0,243.2 L745.0,240.8 L743.4,240.8" fill="none" stroke="#202020" stroke-width="1.15" />
<path d="M743.8,212.0 L737.6,217.4 L743.8,222.8" fill="none" stroke="#202020" stroke-width="1.15" />
<path d="M743.8,230.0 L737.6,235.4 L743.8,240.8" fill="none" stroke="#202020" stroke-width="1.15" />
<path d="M750.8,210.5 L750.8,243.0" fill="none" stroke="#202020" stroke-width="1.5" stroke-dasharray="3.4 1.2"/>
<circle cx="706.0" cy="256.0" r="3.9" fill="none" stroke="#202020" stroke-width="1.7" />
<path d="M705.2,256.0 L702.1,256.0" fill="none" stroke="#202020" stroke-width="1.2" />
<circle cx="706.0" cy="272.4" r="3.9" fill="none" stroke="#202020" stroke-width="1.7" />
<path d="M705.2,272.4 L702.1,272.4" fill="none" stroke="#202020" stroke-width="1.2" />
<ellipse cx="747.6" cy="270.0" rx="4.6" ry="7.4" fill="#fff" stroke="#202020" stroke-width="1.1"/>
<ellipse cx="747.6" cy="268.7" rx="3.0" ry="5.0" fill="#fff" stroke="#202020" stroke-width="0.6"/>
<path d="M757.4,261.6 L757.4,277.5" fill="none" stroke="#202020" stroke-width="1.8" />
<path d="M738.0,280.2 L758.0,280.2" fill="none" stroke="#202020" stroke-width="1.6" />
<path d="M738.0,283.2 L738.0,305.2 A22,22 0 0 1 716.0,283.2" fill="none" stroke="#202020" stroke-width="1.15" />
<path d="M664.4,294.0 L674.2,314.4 A22.6,22.6 0 0 0 684.4,283.4" fill="none" stroke="#202020" stroke-width="1.15" />
<path d="M697.0,272.3 L687.5,281.5" fill="none" stroke="#202020" stroke-width="1.15" />
<rect x="-1.5" y="-1.5" width="3" height="3" transform="translate(693.9,279) rotate(45)" fill="#fff" stroke="#202020" stroke-width="0.8"/>
<path d="M651.0,298.0 L651.0,323.5" fill="none" stroke="#202020" stroke-width="1.5" stroke-dasharray="3.4 1.2"/>
<path d="M661.2,298.5 L656.7,303.8 L659.5,309.0" fill="none" stroke="#202020" stroke-width="1.15" />
<path d="M659.5,313.0 L664.5,318.2 L659.5,323.5" fill="none" stroke="#202020" stroke-width="1.15" />
<path d="M650.5,326.6 L650.5,357.8" fill="none" stroke="#202020" stroke-width="1.15" />
<path d="M652.6,326.6 L652.6,357.8" fill="none" stroke="#202020" stroke-width="1.15" />
<path d="M657.9,326.6 L657.9,357.8" fill="none" stroke="#202020" stroke-width="1.15" />
<path d="M660.3,326.6 L660.3,357.8" fill="none" stroke="#202020" stroke-width="1.15" />
<path d="M650.5,392.7 L650.5,424.8" fill="none" stroke="#202020" stroke-width="1.15" />
<path d="M657.9,392.7 L657.9,424.8" fill="none" stroke="#202020" stroke-width="1.15" />
<path d="M660.3,392.7 L660.3,424.8" fill="none" stroke="#202020" stroke-width="1.15" />
<path d="M657.9,357.8 L657.9,392.7" fill="none" stroke="#202020" stroke-width="1.15" />
<path d="M660.3,357.8 L660.3,392.7" fill="none" stroke="#202020" stroke-width="1.15" />
<rect x="634.9" y="358.2" width="11.5" height="34.5" fill="none" stroke="#202020" stroke-width="1" />
<path d="M636.8,358.2 L636.8,392.7" fill="none" stroke="#202020" stroke-width="0.7" />
<path d="M638.7,358.2 L638.7,392.7" fill="none" stroke="#202020" stroke-width="0.7" />
<path d="M640.7,358.2 L640.7,392.7" fill="none" stroke="#202020" stroke-width="0.7" />
<path d="M642.6,358.2 L642.6,392.7" fill="none" stroke="#202020" stroke-width="0.7" />
<path d="M644.5,358.2 L644.5,392.7" fill="none" stroke="#202020" stroke-width="0.7" />
<path d="M634.9,360.2 L646.4,360.2" fill="none" stroke="#202020" stroke-width="0.7" />
<path d="M634.9,362.3 L646.4,362.3" fill="none" stroke="#202020" stroke-width="0.7" />
<path d="M634.9,364.3 L646.4,364.3" fill="none" stroke="#202020" stroke-width="0.7" />
<path d="M634.9,366.3 L646.4,366.3" fill="none" stroke="#202020" stroke-width="0.7" />
<path d="M634.9,368.3 L646.4,368.3" fill="none" stroke="#202020" stroke-width="0.7" />
<path d="M634.9,370.4 L646.4,370.4" fill="none" stroke="#202020" stroke-width="0.7" />
<path d="M634.9,372.4 L646.4,372.4" fill="none" stroke="#202020" stroke-width="0.7" />
<path d="M634.9,374.4 L646.4,374.4" fill="none" stroke="#202020" stroke-width="0.7" />
<path d="M634.9,376.5 L646.4,376.5" fill="none" stroke="#202020" stroke-width="0.7" />
<path d="M634.9,378.5 L646.4,378.5" fill="none" stroke="#202020" stroke-width="0.7" />
<path d="M634.9,380.5 L646.4,380.5" fill="none" stroke="#202020" stroke-width="0.7" />
<path d="M634.9,382.6 L646.4,382.6" fill="none" stroke="#202020" stroke-width="0.7" />
<path d="M634.9,384.6 L646.4,384.6" fill="none" stroke="#202020" stroke-width="0.7" />
<path d="M634.9,386.6 L646.4,386.6" fill="none" stroke="#202020" stroke-width="0.7" />
<path d="M634.9,388.6 L646.4,388.6" fill="none" stroke="#202020" stroke-width="0.7" />
<path d="M634.9,390.7 L646.4,390.7" fill="none" stroke="#202020" stroke-width="0.7" />
<path d="M646.4,358.7 L657.9,358.7" fill="none" stroke="#202020" stroke-width="1.15" />
<path d="M646.4,392.2 L657.9,392.2" fill="none" stroke="#202020" stroke-width="1.15" />
<path d="M646.4,363.8 L656.6,367.2 L656.6,385.3 L646.4,388.2" fill="none" stroke="#202020" stroke-width="2" />
<path d="M651.3,428.0 L651.3,453.0" fill="none" stroke="#202020" stroke-width="1.5" stroke-dasharray="3.4 1.2"/>
<path d="M661.6,431.0 L661.6,452.0" fill="none" stroke="#202020" stroke-width="1" stroke-dasharray="3.4 1.2"/>
<path d="M662.0,433.0 L664.2,435.0 L662.0,437.0" fill="none" stroke="#202020" stroke-width="0.8" />
<path d="M662.0,447.0 L664.5,449.0 L662.0,451.0" fill="none" stroke="#202020" stroke-width="0.8" />
<path d="M663.8,453.8 L663.8,432.8 A21,21 0 0 1 684.8,453.8" fill="none" stroke="#202020" stroke-width="1.15" />
<path d="M697.5,455.0 L713.2,455.0" fill="none" stroke="#202020" stroke-width="1.15" />
<circle cx="705.0" cy="471.3" r="4.0" fill="none" stroke="#202020" stroke-width="1.7" />
<path d="M704.2,471.3 L701.0,471.3" fill="none" stroke="#202020" stroke-width="1.2" />
<path d="M735.6,454.4 L735.6,432.8 A21.6,21.6 0 0 0 714.0,454.4" fill="none" stroke="#202020" stroke-width="1.15" />
<ellipse cx="746.7" cy="474.3" rx="4.6" ry="7.4" fill="#fff" stroke="#202020" stroke-width="1.1"/>
<ellipse cx="746.7" cy="473.0" rx="3.0" ry="5.0" fill="#fff" stroke="#202020" stroke-width="0.6"/>
<path d="M755.8,466.9 L755.8,483.5" fill="none" stroke="#202020" stroke-width="1.8" />
<path d="M737.5,485.6 L757.5,485.6" fill="none" stroke="#202020" stroke-width="1.6" />
<path d="M735.6,487.8 L735.6,509.4 A21.6,21.6 0 0 1 714.0,487.8" fill="none" stroke="#202020" stroke-width="1.15" />
<path d="M661.4,488.0 L661.4,508.8 A20.8,20.8 0 0 0 682.2,488.0" fill="none" stroke="#202020" stroke-width="1.15" />
<path d="M758.6,522.0 L742.2,522.0 L742.2,519.0" fill="none" stroke="#202020" stroke-width="1.15" />
<path d="M758.6,524.6 L740.7,524.6 L740.7,519.0 L742.2,519.0" fill="none" stroke="#202020" stroke-width="1.15" />
<path d="M740.7,489.0 L740.7,492.0 L742.2,492.0 L742.2,489.0" fill="none" stroke="#202020" stroke-width="1.15" />
<path d="M741.6,492.0 L736.2,497.5 L741.6,503.0" fill="none" stroke="#202020" stroke-width="1.15" />
<path d="M741.6,508.0 L736.2,513.5 L741.6,519.0" fill="none" stroke="#202020" stroke-width="1.15" />
<path d="M747.5,489.0 L747.5,522.0" fill="none" stroke="#202020" stroke-width="0.8" />
<path d="M749.8,489.5 L749.8,522.0" fill="none" stroke="#202020" stroke-width="1.5" stroke-dasharray="3.4 1.2"/>
<path d="M642.5,521.4 L642.5,500.8 A20.6,20.6 0 0 0 621.9,521.4" fill="none" stroke="#202020" stroke-width="1.15" />
<path d="M656.2,524.0 L656.2,600.2" fill="none" stroke="#202020" stroke-width="1.15" />
<path d="M522.5,600.2 L656.2,600.2" fill="none" stroke="#202020" stroke-width="1.15" />
<rect x="556.0" y="528.4" width="43.0" height="11.0" fill="none" stroke="#202020" stroke-width="1.15" />
<path d="M556.0,528.8 L599.0,528.8" fill="none" stroke="#202020" stroke-width="2.2" />
<path d="M173.7,500.4 A21.4,21.4 0 0 1 152.3,479.0" fill="none" stroke="#202020" stroke-width="1.15" />
<path d="M178.4,481.2 L172.6,485.7 L176.6,489.7" fill="none" stroke="#202020" stroke-width="1.15" />
<path d="M176.6,497.3 L172.2,500.5 L178.6,507.0" fill="none" stroke="#202020" stroke-width="1.15" />
<path d="M195.4,479.8 L195.4,507.4" fill="none" stroke="#202020" stroke-width="0.8" />
<path d="M196.7,480.2 L196.7,507.2" fill="none" stroke="#202020" stroke-width="1.8" stroke-dasharray="3.4 1.2"/>
<rect x="198.0" y="479.8" width="5.2" height="2.5" fill="none" stroke="#202020" stroke-width="1.3" />
<path d="M178.6,507.4 L203.0,507.4" fill="none" stroke="#202020" stroke-width="1.15" />
<rect x="180.3" y="510.2" width="22.7" height="13.2" fill="none" stroke="#202020" stroke-width="1.15" />
<circle cx="191.3" cy="516.7" r="4.3" fill="none" stroke="#202020" stroke-width="1.7" />
<path d="M191.3,515.8 L191.3,512.4" fill="none" stroke="#202020" stroke-width="1.2" />
<path d="M178.6,525.0 L203.0,525.0" fill="none" stroke="#202020" stroke-width="1.15" />
<path d="M178.4,547.2 L157.2,547.2 A21.2,21.2 0 0 1 178.4,526.0" fill="none" stroke="#202020" stroke-width="1.15" />
<ellipse cx="192.5" cy="556.3" rx="4.6" ry="7.4" fill="#fff" stroke="#202020" stroke-width="1.1"/>
<ellipse cx="192.5" cy="555.0" rx="3.0" ry="5.0" fill="#fff" stroke="#202020" stroke-width="0.6"/>
<path d="M202.6,542.0 L202.6,567.5" fill="none" stroke="#202020" stroke-width="1.8" />
<path d="M181.0,567.8 L203.0,567.8" fill="none" stroke="#202020" stroke-width="1.6" />
<path d="M96.6,440.6 L54.6,440.6 L54.6,483.0 L96.6,483.0" fill="none" stroke="#202020" stroke-width="1.15" />
<path d="M97.6,451.2 L120.0,451.2 A22.4,22.4 0 0 1 97.6,473.6" fill="none" stroke="#202020" stroke-width="1.5" />
<path d="M282.9,499.8 A20.8,20.8 0 0 1 262.1,479.0" fill="none" stroke="#202020" stroke-width="1.15" />
<path d="M330.5,499.8 A20.8,20.8 0 0 0 351.3,479.0" fill="none" stroke="#202020" stroke-width="1.15" />
<path d="M283.6,480.0 L283.6,500.3 L289.8,505.4" fill="none" stroke="#202020" stroke-width="1.15" />
<path d="M330.4,480.0 L330.4,500.3 L324.4,505.4" fill="none" stroke="#202020" stroke-width="1.15" />
<path d="M288.8,479.9 L283.9,483.7 L288.8,488.8" fill="none" stroke="#202020" stroke-width="1.15" />
<path d="M288.8,496.4 L283.9,500.3" fill="none" stroke="#202020" stroke-width="1.15" />
<path d="M325.2,479.9 L330.1,483.7 L325.2,488.8" fill="none" stroke="#202020" stroke-width="1.15" />
<path d="M325.2,496.4 L330.1,500.3" fill="none" stroke="#202020" stroke-width="1.15" />
<path d="M298.5,480.5 L298.5,505.0" fill="none" stroke="#202020" stroke-width="1.9" stroke-dasharray="3.4 1.2"/>
<path d="M297.2,480.0 L297.2,505.4" fill="none" stroke="#202020" stroke-width="0.7" />
<path d="M315.9,480.5 L315.9,505.0" fill="none" stroke="#202020" stroke-width="1.9" stroke-dasharray="3.4 1.2"/>
<path d="M317.2,480.0 L317.2,505.4" fill="none" stroke="#202020" stroke-width="0.7" />
<path d="M289.5,505.7 L324.8,505.7" fill="none" stroke="#202020" stroke-width="1.15" />
<rect x="293.0" y="507.2" width="28.4" height="14.5" fill="none" stroke="#202020" stroke-width="1.15" />
<circle cx="307.5" cy="514.3" r="4.3" fill="none" stroke="#202020" stroke-width="1.7" />
<path d="M307.5,513.4 L307.5,510.0" fill="none" stroke="#202020" stroke-width="1.2" />
<path d="M291.0,523.4 L323.4,523.4" fill="none" stroke="#202020" stroke-width="0.8" />
<path d="M268.4,546.8 A22.8,22.8 0 0 1 281.2,525.8 L333.2,525.8 A22.8,22.8 0 0 1 346.0,546.8" fill="none" stroke="#202020" stroke-width="1.15" />
<path d="M268.4,547.2 L291.2,547.2" fill="none" stroke="#202020" stroke-width="1.4" />
<path d="M323.2,547.2 L346.0,547.2" fill="none" stroke="#202020" stroke-width="1.4" />
<ellipse cx="304.2" cy="559.4" rx="7.4" ry="4.6" fill="#fff" stroke="#202020" stroke-width="1.1"/>
<ellipse cx="305.5" cy="559.4" rx="5.0" ry="3.0" fill="#fff" stroke="#202020" stroke-width="0.6"/>
<path d="M293.5,567.8 L312.0,567.8" fill="none" stroke="#202020" stroke-width="1.8" />
<path d="M170.9,443 Q172.5,436 176.1,431.1 L193.3,442.6" fill="none" stroke="#202020" stroke-width="1.15" />
<path d="M193.3,442.6 L183.6,423.7 Q189,420.5 195,420.8" fill="none" stroke="#202020" stroke-width="1.15" />
<path d="M214.2,421.5 L214.2,441.6" fill="none" stroke="#202020" stroke-width="1.5" stroke-dasharray="3.4 1.2"/>
<rect x="197.8" y="404.3" width="23.2" height="13.3" fill="none" stroke="#202020" stroke-width="1.15" />
<circle cx="209.7" cy="411.5" r="4" fill="none" stroke="#202020" stroke-width="1.7" />
<path d="M209.7,412.3 L209.7,415.5" fill="none" stroke="#202020" stroke-width="1.2" />
<path d="M196.3,402.8 L221.0,402.8" fill="none" stroke="#202020" stroke-width="1.15" />
<path d="M198.0,287.4 L207.5,296.3" fill="none" stroke="#202020" stroke-width="1.15" />
<path d="M198.0,291.8 L202.5,296.3" fill="none" stroke="#202020" stroke-width="0.8" />
<circle cx="201.7" cy="293.2" r="1.7" fill="none" stroke="#202020" stroke-width="0.9" />
<rect x="198.0" y="299.2" width="23.4" height="13.6" fill="none" stroke="#202020" stroke-width="1.15" />
<circle cx="209.7" cy="305.4" r="4" fill="none" stroke="#202020" stroke-width="1.7" />
<path d="M209.7,304.6 L209.7,301.4" fill="none" stroke="#202020" stroke-width="1.2" />
<path d="M195.3,335.2 L173.9,335.2 A21.4,21.4 0 0 1 195.3,313.8" fill="none" stroke="#202020" stroke-width="1.15" />
<path d="M174.0,336.2 L196.0,336.2" fill="none" stroke="#202020" stroke-width="0.8" />
<path d="M161.4,341.6 L164.9,341.6" fill="none" stroke="#202020" stroke-width="1.15" />
<path d="M164.9,341.2 L169.1,335.8 L173.3,341.2" fill="none" stroke="#202020" stroke-width="1.15" />
<path d="M182.0,341.2 L188.3,336.0 L194.6,341.2" fill="none" stroke="#202020" stroke-width="1.15" />
<path d="M161.4,343.0 L194.6,343.0" fill="none" stroke="#202020" stroke-width="0.8" />
<path d="M161.4,349.4 L194.6,349.4" fill="none" stroke="#202020" stroke-width="1" stroke-dasharray="3.4 1.2"/>
<path d="M161.4,351.0 L194.6,351.0" fill="none" stroke="#202020" stroke-width="1" stroke-dasharray="3.4 1.2"/>
<ellipse cx="211.8" cy="345.6" rx="4.6" ry="7.4" fill="#fff" stroke="#202020" stroke-width="1.1"/>
<ellipse cx="211.8" cy="344.3" rx="3.0" ry="5.0" fill="#fff" stroke="#202020" stroke-width="0.6"/>
<ellipse cx="211.3" cy="371.4" rx="4.6" ry="7.4" fill="#fff" stroke="#202020" stroke-width="1.1"/>
<ellipse cx="211.3" cy="372.7" rx="3.0" ry="5.0" fill="#fff" stroke="#202020" stroke-width="0.6"/>
<path d="M221.0,329.0 L221.0,385.0" fill="none" stroke="#202020" stroke-width="1.8" />
<path d="M195.3,379.0 L174.1,379.0 A21.2,21.2 0 0 0 195.3,400.2" fill="none" stroke="#202020" stroke-width="1.15" />
<path d="M174.0,378.2 L196.0,378.2" fill="none" stroke="#202020" stroke-width="0.8" />
<path d="M403.6,311.8 A21.4,21.4 0 0 0 425.0,290.4" fill="none" stroke="#202020" stroke-width="1.15" />
<path d="M270.8,291.0 L270.8,379.0" fill="none" stroke="#202020" stroke-width="1.15" />
<path d="M264.0,311.2 L270.8,311.2" fill="none" stroke="#202020" stroke-width="0.8" />
<rect x="264.4" y="360.7" width="5.0" height="13.7" fill="none" stroke="#202020" stroke-width="1.15" />
<rect x="298.4" y="291.4" width="5.4" height="17.6" fill="none" stroke="#202020" stroke-width="0.9" />
<rect x="298.4" y="312.7" width="5.4" height="12.2" fill="none" stroke="#202020" stroke-width="0.9" />
<rect x="298.4" y="328.7" width="5.4" height="12.2" fill="none" stroke="#202020" stroke-width="0.9" />
<rect x="298.4" y="344.0" width="5.4" height="12.0" fill="none" stroke="#202020" stroke-width="0.9" />
<rect x="298.4" y="367.5" width="5.4" height="8.5" fill="none" stroke="#202020" stroke-width="0.9" />
<path d="M298.4,332.5 L303.8,332.5" fill="none" stroke="#202020" stroke-width="0.9" />
<path d="M298.4,336.5 L303.8,336.5" fill="none" stroke="#202020" stroke-width="0.9" />
<path d="M298.4,347.5 L303.8,347.5" fill="none" stroke="#202020" stroke-width="0.9" />
<path d="M298.4,351.5 L303.8,351.5" fill="none" stroke="#202020" stroke-width="0.9" />
<path d="M298.4,359.0 L303.8,359.0" fill="none" stroke="#202020" stroke-width="0.9" />
<path d="M298.4,362.5 L303.8,362.5" fill="none" stroke="#202020" stroke-width="0.9" />
<path d="M272.9,290.6 A22,22 0 0 0 294.9,312.6" fill="none" stroke="#202020" stroke-width="1.15" />
<ellipse cx="325.0" cy="303.0" rx="4.6" ry="7.4" fill="#fff" stroke="#202020" stroke-width="1.1"/>
<ellipse cx="325.0" cy="304.3" rx="3.0" ry="5.0" fill="#fff" stroke="#202020" stroke-width="0.6"/>
<path d="M316.9,292.0 L316.9,315.0" fill="none" stroke="#202020" stroke-width="1.8" />
<circle cx="342.6" cy="296.8" r="4.2" fill="none" stroke="#202020" stroke-width="1.5" />
<path d="M342.6,292.6 L342.6,296.4" fill="none" stroke="#202020" stroke-width="1.3" />
<path d="M354.4,290.6 A21.2,21.2 0 0 0 375.6,311.8" fill="none" stroke="#202020" stroke-width="1.15" />
<circle cx="352.6" cy="327.3" r="17.5" fill="none" stroke="#202020" stroke-width="1.1" stroke-dasharray="3 1.6"/>
<circle cx="351.0" cy="320.2" r="1.7" fill="#202020" stroke="#202020" stroke-width="0.8" />
<path d="M351,322 L351,327.2 L355.4,327.2 L357.6,331.4" fill="none" stroke="#202020" stroke-width="1.9" />
<path d="M353.8,325.2 A4.3,4.3 0 1 0 355.6,331.4" fill="none" stroke="#202020" stroke-width="1.7" />
<rect x="316.6" y="361.2" width="32.8" height="17.6" fill="none" stroke="#202020" stroke-width="1.15" />
<path d="M316.6,361.2 L349.4,378.8" fill="none" stroke="#202020" stroke-width="1.15" />
<path d="M316.6,378.8 L349.4,361.2" fill="none" stroke="#202020" stroke-width="1.15" />
<rect x="353.3" y="360.8" width="36.0" height="18.0" fill="none" stroke="#202020" stroke-width="1.15" />
<rect x="355" y="362.6" width="32.6" height="14.6" rx="4" fill="none" stroke="#202020" stroke-width="1.5"/>
<path d="M315.6,360.4 L390.0,360.4" fill="none" stroke="#202020" stroke-width="1.15" />
<path d="M403.6,322.0 L426.0,322.0 L426.0,332.0" fill="none" stroke="#202020" stroke-width="1.15" />
<path d="M403.6,330.6 L426.0,330.6" fill="none" stroke="#202020" stroke-width="0.9" />
<path d="M405.3,359.5 L405.3,347.7 L466.8,347.7 L466.8,417.8" fill="none" stroke="#202020" stroke-width="1.15" />
<circle cx="430.5" cy="345.8" r="1.4" fill="#fff" stroke="#202020" stroke-width="0.6" />
<circle cx="436.0" cy="345.8" r="1.4" fill="#fff" stroke="#202020" stroke-width="0.6" />
<circle cx="441.5" cy="345.8" r="1.4" fill="#fff" stroke="#202020" stroke-width="0.6" />
<polygon points="464,342 472.6,342 478.4,347.7 473.4,353.6" fill="#1e1e1e"/>
<path d="M467.5,343.6 L470,346.6 L472.5,343.6 M471.5,347.4 L474,350.2 L476.2,347.4" fill="none" stroke="#fff" stroke-width="0.8"/>
<rect x="466.0" y="359.2" width="14.0" height="14.6" fill="none" stroke="#202020" stroke-width="1" stroke-dasharray="3 1.5"/>
<rect x="466.0" y="402.8" width="14.0" height="14.0" fill="none" stroke="#202020" stroke-width="1" stroke-dasharray="3 1.5"/>
<path d="M466.8,361.0 L466.8,372.0" fill="none" stroke="#202020" stroke-width="2" />
<path d="M466.8,404.5 L466.8,415.5" fill="none" stroke="#202020" stroke-width="2" />
<rect x="398.4" y="360.0" width="9.6" height="20.6" fill="none" stroke="#202020" stroke-width="1.2" />
<rect x="398.4" y="382.2" width="9.6" height="19.8" fill="none" stroke="#202020" stroke-width="1.2" />
<path d="M441.8,444.4 L441.8,435 Q441.8,430.6 446.5,430.6 L455.8,430.6" fill="none" stroke="#202020" stroke-width="1.15" />
<g transform="translate(466.3,429.2) rotate(-45)"><rect x="-9" y="-6.6" width="18" height="13.2" fill="#fff" stroke="#202020" stroke-width="1.4"/><rect x="-7.4" y="-4.6" width="6.6" height="8.4" fill="none" stroke="#202020" stroke-width="1.1"/><rect x="0.8" y="-4.6" width="6.6" height="8.4" fill="none" stroke="#202020" stroke-width="1.1"/><circle cx="-4.1" cy="0" r="0.9" fill="#202020"/><circle cx="4.1" cy="0" r="0.9" fill="#202020"/></g>
<rect x="388.8" y="426.0" width="28.5" height="18.8" fill="none" stroke="#202020" stroke-width="1.15" />
<path d="M389.0,438.0 L415.0,438.0" fill="none" stroke="#202020" stroke-width="1.15" />
<path d="M415.0,427.0 L415.0,444.5" fill="none" stroke="#202020" stroke-width="1.15" />
<path d="M389.0,442.5 L415.0,442.5" fill="none" stroke="#202020" stroke-width="0.8" />
<path d="M327.3,390.0 L388.8,390.0" fill="none" stroke="#202020" stroke-width="1.15" />
<path d="M327.3,390.0 L327.3,405.0" fill="none" stroke="#202020" stroke-width="1.15" />
<path d="M337.2,407.4 L359.5,407.4 L359.5,415.6 L346,415.6 L346,432.8 L361.8,432.8 L361.8,442.6" fill="none" stroke="#202020" stroke-width="1.15" />
<path d="M362.0,433.3 L385.0,443.3" fill="none" stroke="#202020" stroke-width="1.15" />
<path d="M368.5,406.6 A19.5,19.5 0 0 0 388.0,426.1" fill="none" stroke="#202020" stroke-width="1.15" />
<path d="M368.5,404.5 L368.5,409.0" fill="none" stroke="#202020" stroke-width="1.15" />
<rect x="257.4" y="382.8" width="9.6" height="15.2" fill="none" stroke="#202020" stroke-width="1.4" />
<rect x="269.4" y="382.8" width="10.2" height="15.2" fill="none" stroke="#202020" stroke-width="1.4" />
<path d="M263,385.5 q-3,1 -1.5,3 q2,1.5 0,3 q-2,1 0,2.5 q2,1 -1.5,2.5" fill="none" stroke="#202020" stroke-width="1" />
<path d="M275.3,385.5 q-3,1 -1.5,3 q2,1.5 0,3 q-2,1 0,2.5 q2,1 -1.5,2.5" fill="none" stroke="#202020" stroke-width="1" />
<rect x="263.5" y="415.8" width="23.0" height="12.7" fill="none" stroke="#202020" stroke-width="1.1" stroke-dasharray="3 1.6"/>
<circle cx="290.5" cy="423.9" r="4.3" fill="none" stroke="#202020" stroke-width="1.2" />
<circle cx="290.5" cy="435.4" r="4.3" fill="none" stroke="#202020" stroke-width="1.2" />
<path d="M257.2,444 L275.6,430.7 Q278.5,436 279.6,444" fill="none" stroke="#202020" stroke-width="1.15" />
<path d="M311.2,430.5 L311.2,443.0" fill="none" stroke="#202020" stroke-width="1.15" />
<path d="M312.4,430.5 L312.4,443.0" fill="none" stroke="#202020" stroke-width="1.15" />
<path d="M311.2,430.5 L312.4,430.5" fill="none" stroke="#202020" stroke-width="1.15" />
<ellipse cx="311.6" cy="416.6" rx="7.4" ry="4.6" fill="#fff" stroke="#202020" stroke-width="1.1"/>
<ellipse cx="312.9" cy="416.6" rx="5.0" ry="3.0" fill="#fff" stroke="#202020" stroke-width="0.6"/>
<circle cx="305.5" cy="434.2" r="4.4" fill="none" stroke="#202020" stroke-width="1.5" />
<circle cx="305.5" cy="434.2" r="1.9" fill="none" stroke="#202020" stroke-width="1" />
<path d="M300.5,434.2 L303.5,434.2" fill="none" stroke="#202020" stroke-width="1.2" />
<path d="M333.2,421.2 A21.6,21.6 0 0 0 311.6,442.8" fill="none" stroke="#202020" stroke-width="1.15" /></g>
<g><rect x="135.0" y="151.4" width="28.0" height="4.8" fill="#2a2a2a"/>
<rect x="135.6" y="152.4" width="26.8" height="2.8" fill="#7d7d7d"/>
<rect x="227.5" y="151.6" width="29.5" height="4.8" fill="#2a2a2a"/>
<rect x="228.1" y="152.6" width="28.3" height="2.8" fill="#7d7d7d"/>
<rect x="357.0" y="151.9" width="28.0" height="4.8" fill="#2a2a2a"/>
<rect x="357.6" y="152.9" width="26.8" height="2.8" fill="#7d7d7d"/>
<rect x="445.0" y="152.1" width="28.5" height="4.8" fill="#2a2a2a"/>
<rect x="445.6" y="153.1" width="27.3" height="2.8" fill="#7d7d7d"/>
<rect x="553.0" y="152.3" width="27.5" height="4.8" fill="#2a2a2a"/>
<rect x="553.6" y="153.3" width="26.3" height="2.8" fill="#7d7d7d"/>
<rect x="662.7" y="26.1" width="27.5" height="4.8" fill="#2a2a2a"/>
<rect x="663.3" y="27.1" width="26.3" height="2.8" fill="#7d7d7d"/>
<rect x="757.9" y="166.7" width="4.8" height="28.6" fill="#2a2a2a"/>
<rect x="758.9" y="167.3" width="2.8" height="27.4" fill="#7d7d7d"/>
<rect x="757.4" y="310.7" width="4.8" height="29.9" fill="#2a2a2a"/>
<rect x="758.4" y="311.3" width="2.8" height="28.7" fill="#7d7d7d"/>
<rect x="757.2" y="396.7" width="4.8" height="28.6" fill="#2a2a2a"/>
<rect x="758.2" y="397.3" width="2.8" height="27.4" fill="#7d7d7d"/>
<rect x="695.0" y="583.2" width="26.0" height="4.8" fill="#2a2a2a"/>
<rect x="695.6" y="584.2" width="24.8" height="2.8" fill="#7d7d7d"/>
<rect x="544.5" y="520.7" width="53.0" height="3.4" fill="#2a2a2a"/>
<rect x="545.1" y="521.7" width="51.8" height="1.4" fill="#7d7d7d"/>
<circle cx="571" cy="522.4" r="1.5" fill="#fff" stroke="#202020" stroke-width="0.8"/>
<rect x="533.6" y="538.0" width="4.8" height="28.0" fill="#2a2a2a"/>
<rect x="534.6" y="538.6" width="2.8" height="26.8" fill="#7d7d7d"/>
<rect x="442.0" y="596.8" width="60.0" height="4.8" fill="#2a2a2a"/>
<rect x="442.6" y="597.8" width="58.8" height="2.8" fill="#7d7d7d"/>
<circle cx="472" cy="599.2" r="1.6" fill="#fff" stroke="#202020" stroke-width="0.8"/>
<line x1="410.6" y1="587.6" x2="420.6" y2="597.6" stroke="#2a2a2a" stroke-width="4.6"/>
<line x1="410.6" y1="587.6" x2="420.6" y2="597.6" stroke="#7d7d7d" stroke-width="2.5999999999999996"/>
<line x1="523.8" y1="597.6" x2="534.0" y2="587.6" stroke="#2a2a2a" stroke-width="4.6"/>
<line x1="523.8" y1="597.6" x2="534.0" y2="587.6" stroke="#7d7d7d" stroke-width="2.5999999999999996"/>
<rect x="135.2" y="582.1" width="25.8" height="4.8" fill="#2a2a2a"/>
<rect x="135.8" y="583.1" width="24.6" height="2.8" fill="#7d7d7d"/>
<rect x="235.0" y="568.2" width="28.0" height="4.8" fill="#2a2a2a"/>
<rect x="235.6" y="569.2" width="26.8" height="2.8" fill="#7d7d7d"/>
<rect x="351.0" y="568.5" width="28.0" height="4.8" fill="#2a2a2a"/>
<rect x="351.6" y="569.5" width="26.8" height="2.8" fill="#7d7d7d"/>
<rect x="193.9" y="270.2" width="4.1" height="17.2" fill="#2a2a2a"/>
<rect x="194.9" y="270.8" width="2.1" height="16.0" fill="#7d7d7d"/>
<rect x="96.4" y="300.0" width="4.8" height="29.0" fill="#2a2a2a"/>
<rect x="97.4" y="300.6" width="2.8" height="27.8" fill="#7d7d7d"/>
<rect x="96.1" y="386.5" width="4.8" height="29.0" fill="#2a2a2a"/>
<rect x="97.1" y="387.1" width="2.8" height="27.8" fill="#7d7d7d"/>
<rect x="444.6" y="287.8" width="21.0" height="3.4" fill="#2a2a2a"/>
<rect x="445.2" y="288.8" width="19.8" height="1.4" fill="#7d7d7d"/>
<rect x="481.7" y="304.5" width="3.4" height="19.3" fill="#2a2a2a"/>
<rect x="482.7" y="305.1" width="1.4" height="18.1" fill="#7d7d7d"/></g>
<g opacity="0.995"><text x="288.0" y="425.5" font-size="3.2" textLength="5.0" lengthAdjust="spacingAndGlyphs" font-weight="normal">WH</text>
<text x="288.0" y="437.0" font-size="3.2" textLength="5.0" lengthAdjust="spacingAndGlyphs" font-weight="normal">WH</text>
<text x="111.3" y="173.7" font-size="10.5" textLength="69.0" lengthAdjust="spacingAndGlyphs" font-weight="bold" style="stroke-width:0.25px">BEDROOM#10</text>
<line x1="110.8" y1="174.8" x2="180.8" y2="174.8" stroke="#202020" stroke-width="1.5"/>
<text x="116.3" y="186.0" font-size="9.5" textLength="14.3" lengthAdjust="spacingAndGlyphs" font-weight="bold" style="stroke-width:0.3px">157</text>
<text x="138.1" y="186.0" font-size="9.5" textLength="13.4" lengthAdjust="spacingAndGlyphs" font-weight="bold" style="stroke-width:0.3px">SQ.</text>
<text x="158.8" y="186.0" font-size="9.5" textLength="11.4" lengthAdjust="spacingAndGlyphs" font-weight="bold" style="stroke-width:0.3px">FT.</text>
<text x="205.3" y="173.7" font-size="10.5" textLength="62.7" lengthAdjust="spacingAndGlyphs" font-weight="bold" style="stroke-width:0.25px">BEDROOM#9</text>
<line x1="204.8" y1="174.8" x2="268.5" y2="174.8" stroke="#202020" stroke-width="1.5"/>
<text x="206.8" y="186.0" font-size="9.5" textLength="14.6" lengthAdjust="spacingAndGlyphs" font-weight="bold" style="stroke-width:0.3px">157</text>
<text x="229.0" y="186.0" font-size="9.5" textLength="13.6" lengthAdjust="spacingAndGlyphs" font-weight="bold" style="stroke-width:0.3px">SQ.</text>
<text x="250.1" y="186.0" font-size="9.5" textLength="11.6" lengthAdjust="spacingAndGlyphs" font-weight="bold" style="stroke-width:0.3px">FT.</text>
<text x="339.7" y="173.7" font-size="10.5" textLength="62.7" lengthAdjust="spacingAndGlyphs" font-weight="bold" style="stroke-width:0.25px">BEDROOM#8</text>
<line x1="339.2" y1="174.8" x2="402.9" y2="174.8" stroke="#202020" stroke-width="1.5"/>
<text x="341.0" y="186.0" font-size="9.5" textLength="14.4" lengthAdjust="spacingAndGlyphs" font-weight="bold" style="stroke-width:0.3px">157</text>
<text x="362.9" y="186.0" font-size="9.5" textLength="13.5" lengthAdjust="spacingAndGlyphs" font-weight="bold" style="stroke-width:0.3px">SQ.</text>
<text x="383.8" y="186.0" font-size="9.5" textLength="11.5" lengthAdjust="spacingAndGlyphs" font-weight="bold" style="stroke-width:0.3px">FT.</text>
<text x="422.5" y="173.7" font-size="10.5" textLength="64.0" lengthAdjust="spacingAndGlyphs" font-weight="bold" style="stroke-width:0.25px">BEDROOM#7</text>
<line x1="422.0" y1="174.8" x2="487.0" y2="174.8" stroke="#202020" stroke-width="1.5"/>
<text x="425.0" y="186.0" font-size="9.5" textLength="14.6" lengthAdjust="spacingAndGlyphs" font-weight="bold" style="stroke-width:0.3px">151</text>
<text x="447.2" y="186.0" font-size="9.5" textLength="13.6" lengthAdjust="spacingAndGlyphs" font-weight="bold" style="stroke-width:0.3px">SQ.</text>
<text x="468.4" y="186.0" font-size="9.5" textLength="11.6" lengthAdjust="spacingAndGlyphs" font-weight="bold" style="stroke-width:0.3px">FT.</text>
<text x="552.3" y="173.7" font-size="10.5" textLength="62.7" lengthAdjust="spacingAndGlyphs" font-weight="bold" style="stroke-width:0.25px">BEDROOM#6</text>
<line x1="551.8" y1="174.8" x2="615.5" y2="174.8" stroke="#202020" stroke-width="1.5"/>
<text x="554.0" y="186.0" font-size="9.5" textLength="14.5" lengthAdjust="spacingAndGlyphs" font-weight="bold" style="stroke-width:0.3px">151</text>
<text x="576.0" y="186.0" font-size="9.5" textLength="13.5" lengthAdjust="spacingAndGlyphs" font-weight="bold" style="stroke-width:0.3px">SQ.</text>
<text x="596.9" y="186.0" font-size="9.5" textLength="11.5" lengthAdjust="spacingAndGlyphs" font-weight="bold" style="stroke-width:0.3px">FT.</text>
<text x="643.9" y="62.9" font-size="10.5" textLength="63.4" lengthAdjust="spacingAndGlyphs" font-weight="bold" style="stroke-width:0.25px">BEDROOM#5</text>
<line x1="643.4" y1="64.0" x2="707.8" y2="64.0" stroke="#202020" stroke-width="1.5"/>
<text x="645.3" y="75.2" font-size="9.5" textLength="15.0" lengthAdjust="spacingAndGlyphs" font-weight="bold" style="stroke-width:0.3px">211</text>
<text x="668.0" y="75.2" font-size="9.5" textLength="13.9" lengthAdjust="spacingAndGlyphs" font-weight="bold" style="stroke-width:0.3px">SQ.</text>
<text x="689.6" y="75.2" font-size="9.5" textLength="11.9" lengthAdjust="spacingAndGlyphs" font-weight="bold" style="stroke-width:0.3px">FT.</text>
<text x="682.0" y="172.5" font-size="10.5" textLength="62.5" lengthAdjust="spacingAndGlyphs" font-weight="bold" style="stroke-width:0.25px">BEDROOM#4</text>
<line x1="681.5" y1="173.6" x2="745.0" y2="173.6" stroke="#202020" stroke-width="1.5"/>
<text x="684.0" y="184.8" font-size="9.5" textLength="14.4" lengthAdjust="spacingAndGlyphs" font-weight="bold" style="stroke-width:0.3px">155</text>
<text x="705.8" y="184.8" font-size="9.5" textLength="13.4" lengthAdjust="spacingAndGlyphs" font-weight="bold" style="stroke-width:0.3px">SQ.</text>
<text x="726.6" y="184.8" font-size="9.5" textLength="11.4" lengthAdjust="spacingAndGlyphs" font-weight="bold" style="stroke-width:0.3px">FT.</text>
<text x="682.0" y="330.7" font-size="10.5" textLength="62.0" lengthAdjust="spacingAndGlyphs" font-weight="bold" style="stroke-width:0.25px">BEDROOM#3</text>
<line x1="681.5" y1="331.8" x2="744.5" y2="331.8" stroke="#202020" stroke-width="1.5"/>
<text x="684.0" y="343.0" font-size="9.5" textLength="14.4" lengthAdjust="spacingAndGlyphs" font-weight="bold" style="stroke-width:0.3px">160</text>
<text x="705.8" y="343.0" font-size="9.5" textLength="13.4" lengthAdjust="spacingAndGlyphs" font-weight="bold" style="stroke-width:0.3px">SQ.</text>
<text x="726.6" y="343.0" font-size="9.5" textLength="11.4" lengthAdjust="spacingAndGlyphs" font-weight="bold" style="stroke-width:0.3px">FT.</text>
<text x="682.0" y="396.8" font-size="10.5" textLength="62.0" lengthAdjust="spacingAndGlyphs" font-weight="bold" style="stroke-width:0.25px">BEDROOM#2</text>
<line x1="681.5" y1="397.9" x2="744.5" y2="397.9" stroke="#202020" stroke-width="1.5"/>
<text x="684.0" y="409.1" font-size="9.5" textLength="14.4" lengthAdjust="spacingAndGlyphs" font-weight="bold" style="stroke-width:0.3px">166</text>
<text x="705.8" y="409.1" font-size="9.5" textLength="13.4" lengthAdjust="spacingAndGlyphs" font-weight="bold" style="stroke-width:0.3px">SQ.</text>
<text x="726.6" y="409.1" font-size="9.5" textLength="11.4" lengthAdjust="spacingAndGlyphs" font-weight="bold" style="stroke-width:0.3px">FT.</text>
<text x="670.6" y="542.3" font-size="10.5" textLength="61.9" lengthAdjust="spacingAndGlyphs" font-weight="bold" style="stroke-width:0.25px">BEDROOM#1</text>
<line x1="670.1" y1="543.4" x2="733.0" y2="543.4" stroke="#202020" stroke-width="1.5"/>
<text x="671.5" y="554.6" font-size="9.5" textLength="14.2" lengthAdjust="spacingAndGlyphs" font-weight="bold" style="stroke-width:0.3px">166</text>
<text x="693.1" y="554.6" font-size="9.5" textLength="13.3" lengthAdjust="spacingAndGlyphs" font-weight="bold" style="stroke-width:0.3px">SQ.</text>
<text x="713.7" y="554.6" font-size="9.5" textLength="11.3" lengthAdjust="spacingAndGlyphs" font-weight="bold" style="stroke-width:0.3px">FT.</text>
<text x="110.4" y="305.1" font-size="10.5" textLength="68.6" lengthAdjust="spacingAndGlyphs" font-weight="bold" style="stroke-width:0.25px">BEDROOM#11</text>
<line x1="109.9" y1="306.2" x2="179.5" y2="306.2" stroke="#202020" stroke-width="1.5"/>
<text x="116.0" y="317.4" font-size="9.5" textLength="14.6" lengthAdjust="spacingAndGlyphs" font-weight="bold" style="stroke-width:0.3px">150</text>
<text x="138.2" y="317.4" font-size="9.5" textLength="13.6" lengthAdjust="spacingAndGlyphs" font-weight="bold" style="stroke-width:0.3px">SQ.</text>
<text x="159.4" y="317.4" font-size="9.5" textLength="11.6" lengthAdjust="spacingAndGlyphs" font-weight="bold" style="stroke-width:0.3px">FT.</text>
<text x="111.4" y="407.1" font-size="10.5" textLength="67.6" lengthAdjust="spacingAndGlyphs" font-weight="bold" style="stroke-width:0.25px">BEDROOM#12</text>
<line x1="110.9" y1="408.2" x2="179.5" y2="408.2" stroke="#202020" stroke-width="1.5"/>
<text x="115.0" y="419.4" font-size="9.5" textLength="14.6" lengthAdjust="spacingAndGlyphs" font-weight="bold" style="stroke-width:0.3px">160</text>
<text x="137.2" y="419.4" font-size="9.5" textLength="13.6" lengthAdjust="spacingAndGlyphs" font-weight="bold" style="stroke-width:0.3px">SQ.</text>
<text x="158.4" y="419.4" font-size="9.5" textLength="11.6" lengthAdjust="spacingAndGlyphs" font-weight="bold" style="stroke-width:0.3px">FT.</text>
<text x="102.6" y="524.1" font-size="10.5" textLength="69.0" lengthAdjust="spacingAndGlyphs" font-weight="bold" style="stroke-width:0.25px">BEDROOM#13</text>
<line x1="102.1" y1="525.2" x2="172.1" y2="525.2" stroke="#202020" stroke-width="1.5"/>
<text x="107.0" y="536.4" font-size="9.5" textLength="14.9" lengthAdjust="spacingAndGlyphs" font-weight="bold" style="stroke-width:0.3px">157</text>
<text x="129.6" y="536.4" font-size="9.5" textLength="13.9" lengthAdjust="spacingAndGlyphs" font-weight="bold" style="stroke-width:0.3px">SQ.</text>
<text x="151.2" y="536.4" font-size="9.5" textLength="11.8" lengthAdjust="spacingAndGlyphs" font-weight="bold" style="stroke-width:0.3px">FT.</text>
<text x="211.5" y="524.1" font-size="10.5" textLength="68.5" lengthAdjust="spacingAndGlyphs" font-weight="bold" style="stroke-width:0.25px">BEDROOM#14</text>
<line x1="211.0" y1="525.2" x2="280.5" y2="525.2" stroke="#202020" stroke-width="1.5"/>
<text x="216.0" y="536.4" font-size="9.5" textLength="14.4" lengthAdjust="spacingAndGlyphs" font-weight="bold" style="stroke-width:0.3px">152</text>
<text x="237.8" y="536.4" font-size="9.5" textLength="13.4" lengthAdjust="spacingAndGlyphs" font-weight="bold" style="stroke-width:0.3px">SQ.</text>
<text x="258.6" y="536.4" font-size="9.5" textLength="11.4" lengthAdjust="spacingAndGlyphs" font-weight="bold" style="stroke-width:0.3px">FT.</text>
<text x="331.5" y="524.1" font-size="10.5" textLength="68.5" lengthAdjust="spacingAndGlyphs" font-weight="bold" style="stroke-width:0.25px">BEDROOM#15</text>
<line x1="331.0" y1="525.2" x2="400.5" y2="525.2" stroke="#202020" stroke-width="1.5"/>
<text x="337.3" y="536.4" font-size="9.5" textLength="14.1" lengthAdjust="spacingAndGlyphs" font-weight="bold" style="stroke-width:0.3px">152</text>
<text x="358.7" y="536.4" font-size="9.5" textLength="13.2" lengthAdjust="spacingAndGlyphs" font-weight="bold" style="stroke-width:0.3px">SQ.</text>
<text x="379.2" y="536.4" font-size="9.5" textLength="11.2" lengthAdjust="spacingAndGlyphs" font-weight="bold" style="stroke-width:0.3px">FT.</text>
<text x="516.3" y="75.5" font-size="10.4" textLength="47.7" lengthAdjust="spacingAndGlyphs" font-weight="bold" style="stroke-width:0.1px">COVERED</text>
<text x="571.5" y="75.5" font-size="10.4" textLength="35.0" lengthAdjust="spacingAndGlyphs" font-weight="bold" style="stroke-width:0.1px">PORCH</text>
<line x1="515.8" y1="76.6" x2="607" y2="76.6" stroke="#202020" stroke-width="1.5"/>
<text x="532.6" y="86.3" font-size="9.9" textLength="9.3" lengthAdjust="spacingAndGlyphs" font-weight="bold" style="stroke-width:0.4px">14</text>
<text x="547.1" y="81.7" font-size="6.3" textLength="2.6" lengthAdjust="spacingAndGlyphs" font-weight="bold" style="stroke-width:0.3px">8</text>
<text x="555.6" y="86.3" font-size="9.9" textLength="5.6" lengthAdjust="spacingAndGlyphs" font-weight="bold" style="stroke-width:0.4px">X</text>
<text x="574.0" y="86.3" font-size="9.9" textLength="9.2" lengthAdjust="spacingAndGlyphs" font-weight="bold" style="stroke-width:0.4px">18</text>
<text x="585.2" y="81.7" font-size="6.3" textLength="2.8" lengthAdjust="spacingAndGlyphs" font-weight="bold" style="stroke-width:0.3px">0</text>
<text x="558.9" y="561.4" font-size="10.4" textLength="47.1" lengthAdjust="spacingAndGlyphs" font-weight="bold" style="stroke-width:0.1px">COVERED</text>
<text x="614.4" y="561.4" font-size="10.4" textLength="33.0" lengthAdjust="spacingAndGlyphs" font-weight="bold" style="stroke-width:0.1px">PORCH</text>
<line x1="558.4" y1="562.5" x2="648" y2="562.5" stroke="#202020" stroke-width="1.5"/>
<text x="576.9" y="573.2" font-size="9.9" textLength="9.3" lengthAdjust="spacingAndGlyphs" font-weight="bold" style="stroke-width:0.4px">16</text>
<text x="590.0" y="568.6" font-size="6.3" textLength="2.6" lengthAdjust="spacingAndGlyphs" font-weight="bold" style="stroke-width:0.3px">8</text>
<text x="599.4" y="573.2" font-size="9.9" textLength="5.9" lengthAdjust="spacingAndGlyphs" font-weight="bold" style="stroke-width:0.4px">X</text>
<text x="618.1" y="573.2" font-size="9.9" textLength="7.5" lengthAdjust="spacingAndGlyphs" font-weight="bold" style="stroke-width:0.4px">11</text>
<text x="628.2" y="568.6" font-size="6.3" textLength="2.8" lengthAdjust="spacingAndGlyphs" font-weight="bold" style="stroke-width:0.3px">0</text>
<text x="435.1" y="523.1" font-size="10.4" textLength="33.9" lengthAdjust="spacingAndGlyphs" font-weight="bold" style="stroke-width:0.1px">DINING</text>
<text x="478.0" y="523.1" font-size="10.4" textLength="27.4" lengthAdjust="spacingAndGlyphs" font-weight="bold" style="stroke-width:0.1px">ROOM</text>
<line x1="434.6" y1="524.3" x2="505.9" y2="524.3" stroke="#202020" stroke-width="1.5"/>
<text x="442.4" y="535.0" font-size="9.9" textLength="8.4" lengthAdjust="spacingAndGlyphs" font-weight="bold" style="stroke-width:0.4px">17</text>
<text x="456.8" y="530.4" font-size="6.3" textLength="2.6" lengthAdjust="spacingAndGlyphs" font-weight="bold" style="stroke-width:0.3px">8</text>
<text x="465.8" y="535.0" font-size="9.9" textLength="4.8" lengthAdjust="spacingAndGlyphs" font-weight="bold" style="stroke-width:0.4px">X</text>
<text x="483.6" y="535.0" font-size="9.9" textLength="8.4" lengthAdjust="spacingAndGlyphs" font-weight="bold" style="stroke-width:0.4px">17</text>
<text x="496.2" y="530.4" font-size="6.3" textLength="2.4" lengthAdjust="spacingAndGlyphs" font-weight="bold" style="stroke-width:0.3px">2</text>
<text x="557.0" y="358.0" font-size="10.4" textLength="31.5" lengthAdjust="spacingAndGlyphs" font-weight="bold" style="stroke-width:0.1px">LIVING</text>
<line x1="556.5" y1="359.2" x2="589.0" y2="359.2" stroke="#202020" stroke-width="1.5"/>
<text x="545.2" y="370.5" font-size="9.9" textLength="9.3" lengthAdjust="spacingAndGlyphs" font-weight="bold" style="stroke-width:0.4px">24</text>
<text x="558.7" y="365.9" font-size="6.3" textLength="5.6" lengthAdjust="spacingAndGlyphs" font-weight="bold" style="stroke-width:0.3px">10</text>
<text x="567.7" y="370.5" font-size="9.9" textLength="5.6" lengthAdjust="spacingAndGlyphs" font-weight="bold" style="stroke-width:0.4px">X</text>
<text x="585.7" y="370.5" font-size="9.9" textLength="9.0" lengthAdjust="spacingAndGlyphs" font-weight="bold" style="stroke-width:0.4px">39</text>
<line x1="600.6" y1="362" x2="600.2" y2="365.4" stroke="#202020" stroke-width="1.2"/>
<text x="430.0" y="311.4" font-size="10.4" textLength="34.0" lengthAdjust="spacingAndGlyphs" font-weight="bold" style="stroke-width:0.1px">OFFICE</text>
<line x1="429.5" y1="312.8" x2="464.5" y2="312.8" stroke="#202020" stroke-width="1.5"/>
<text x="422.8" y="323.7" font-size="9.9" textLength="9.6" lengthAdjust="spacingAndGlyphs" font-weight="bold" style="stroke-width:0.4px">12</text>
<text x="434.1" y="319.1" font-size="6.3" textLength="5.8" lengthAdjust="spacingAndGlyphs" font-weight="bold" style="stroke-width:0.3px">10</text>
<text x="444.6" y="323.7" font-size="9.9" textLength="5.3" lengthAdjust="spacingAndGlyphs" font-weight="bold" style="stroke-width:0.4px">X</text>
<text x="462.1" y="323.7" font-size="9.9" textLength="4.4" lengthAdjust="spacingAndGlyphs" font-weight="bold" style="stroke-width:0.4px">5</text>
<text x="469.1" y="319.1" font-size="6.3" textLength="5.8" lengthAdjust="spacingAndGlyphs" font-weight="bold" style="stroke-width:0.3px">10</text>
<text x="414.6" y="388.0" font-size="10.4" textLength="42.9" lengthAdjust="spacingAndGlyphs" font-weight="bold" style="stroke-width:0.1px">KITCHEN</text>
<line x1="414.1" y1="389.5" x2="458.0" y2="389.5" stroke="#202020" stroke-width="1.5"/>
<text x="410.0" y="401.7" font-size="9.9" textLength="9.3" lengthAdjust="spacingAndGlyphs" font-weight="bold" style="stroke-width:0.4px">12</text>
<text x="421.0" y="397.1" font-size="6.3" textLength="4.8" lengthAdjust="spacingAndGlyphs" font-weight="bold" style="stroke-width:0.3px">10</text>
<text x="430.8" y="401.7" font-size="9.9" textLength="4.9" lengthAdjust="spacingAndGlyphs" font-weight="bold" style="stroke-width:0.4px">X</text>
<text x="449.1" y="401.7" font-size="9.9" textLength="9.3" lengthAdjust="spacingAndGlyphs" font-weight="bold" style="stroke-width:0.4px">15</text>
<text x="460.7" y="397.1" font-size="6.3" textLength="6.1" lengthAdjust="spacingAndGlyphs" font-weight="bold" style="stroke-width:0.3px">10</text>
<text x="402.6" y="320.7" font-size="6.8" textLength="15.0" lengthAdjust="spacingAndGlyphs" font-weight="normal">MED</text>
<text x="402.6" y="329.2" font-size="6.6" textLength="22.2" lengthAdjust="spacingAndGlyphs" font-weight="normal">ROOM</text>
<text x="333.0" y="388.6" font-size="7.2" textLength="51.0" lengthAdjust="spacingAndGlyphs" font-weight="normal">16" SHELVES</text>
<text x="336.0" y="397.8" font-size="7.2" textLength="35.0" lengthAdjust="spacingAndGlyphs" font-weight="normal">PANTRY</text>
<text x="339.0" y="404.6" font-size="6.6" textLength="26.0" lengthAdjust="spacingAndGlyphs" font-weight="normal">10'X9'-1"</text>
<text x="268.0" y="411.8" font-size="6.8" textLength="24.0" lengthAdjust="spacingAndGlyphs" font-weight="normal">MECH.</text>
<text x="558.5" y="537.6" font-size="7" textLength="29.5" lengthAdjust="spacingAndGlyphs" font-weight="normal">BENCH</text>
<text x="303.5" y="536.8" font-size="3.2" textLength="8.0" lengthAdjust="spacingAndGlyphs" font-weight="normal">FAN</text>
<text transform="translate(293.2,372) rotate(-90)" font-size="7.6" textLength="67.5" lengthAdjust="spacingAndGlyphs">DOUBLE LNDRY</text>
<text transform="translate(388.2,315.2) rotate(-90)" font-size="8" textLength="12.2" lengthAdjust="spacingAndGlyphs">LIN</text>
<text transform="translate(405.8,379.6) rotate(-90)" font-size="6.4" textLength="18" lengthAdjust="spacingAndGlyphs">REF.</text>
<text transform="translate(405.8,401.2) rotate(-90)" font-size="6.4" textLength="18" lengthAdjust="spacingAndGlyphs">REF.</text>
<text x="468.5" y="369.5" font-size="6.4" textLength="9.5" lengthAdjust="spacingAndGlyphs" font-weight="normal">DW</text>
<text x="468.5" y="412.8" font-size="6.4" textLength="9.5" lengthAdjust="spacingAndGlyphs" font-weight="normal">DW</text>
<text x="358.0" y="630.0" font-size="10.6" textLength="54.6" lengthAdjust="spacingAndGlyphs" font-weight="normal" style="stroke-width:0.1px">BUILDING</text>
<text x="425.0" y="630.0" font-size="10.6" textLength="5.2" lengthAdjust="spacingAndGlyphs" font-weight="normal" style="stroke-width:0.1px">3</text>
<text x="419.3" y="626.4" font-size="6.5" textLength="4.3" lengthAdjust="spacingAndGlyphs" font-weight="bold">#</text>
<line x1="357.5" y1="631.2" x2="431" y2="631.2" stroke="#202020" stroke-width="1.2"/></g>
</svg></body></html>
